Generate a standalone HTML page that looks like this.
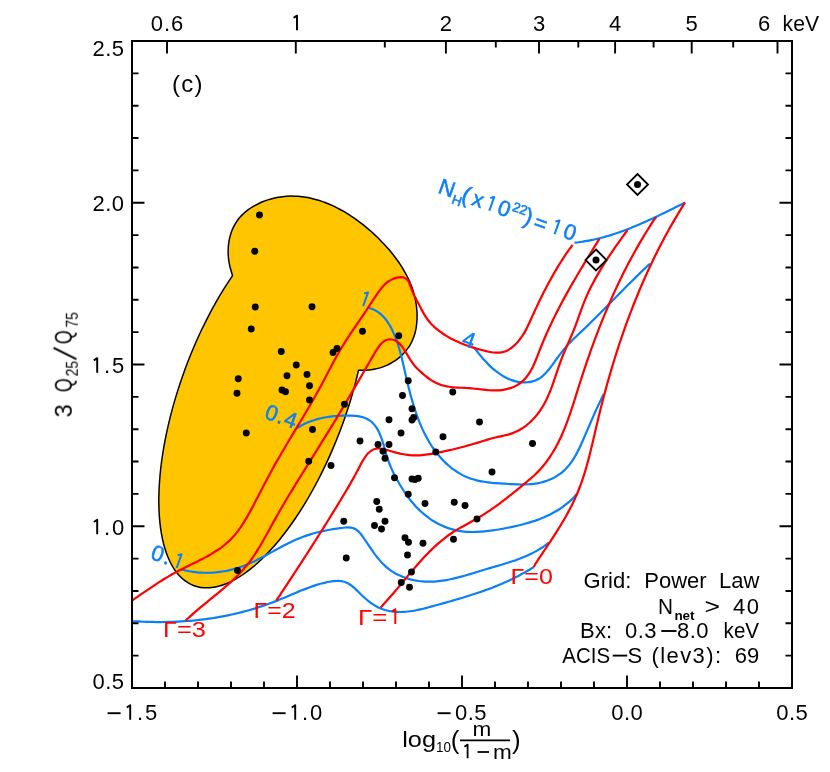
<!DOCTYPE html>
<html><head><meta charset="utf-8"><title>chart</title>
<style>
html,body{margin:0;padding:0;background:#fff;}
body{width:830px;height:772px;position:relative;overflow:hidden;font-family:"Liberation Sans",sans-serif;}
</style></head><body>
<svg width="830" height="772" viewBox="0 0 830 772" style="position:absolute;left:0;top:0;font-family:'Liberation Sans',sans-serif">
<rect x="0" y="0" width="830" height="772" fill="#fff"/>
<path d="M232.51 275.65 C232.33 275.03 231.81 273.21 231.44 271.93 C231.06 270.64 230.61 269.28 230.26 267.94 C229.91 266.60 229.60 265.24 229.34 263.87 C229.07 262.51 228.85 261.13 228.68 259.75 C228.50 258.37 228.37 256.98 228.28 255.59 C228.19 254.20 228.15 252.81 228.15 251.42 C228.15 250.03 228.20 248.64 228.29 247.27 C228.38 245.89 228.52 244.52 228.71 243.16 C228.89 241.80 229.12 240.44 229.40 239.11 C229.68 237.77 230.01 236.45 230.39 235.15 C230.76 233.85 231.19 232.56 231.66 231.30 C232.13 230.05 232.65 228.81 233.22 227.60 C233.79 226.39 234.41 225.20 235.08 224.05 C235.76 222.90 236.48 221.78 237.25 220.70 C238.02 219.61 238.84 218.56 239.71 217.55 C240.58 216.53 241.50 215.56 242.46 214.62 C243.42 213.67 244.42 212.77 245.46 211.90 C246.49 211.03 247.57 210.20 248.68 209.40 C249.78 208.60 250.92 207.84 252.08 207.12 C253.25 206.39 254.44 205.71 255.65 205.05 C256.86 204.40 258.10 203.79 259.35 203.21 C260.59 202.63 261.86 202.08 263.14 201.57 C264.41 201.07 265.71 200.60 267.00 200.16 C268.29 199.72 269.59 199.33 270.89 198.96 C272.19 198.60 273.49 198.27 274.80 197.98 C276.10 197.69 277.40 197.43 278.71 197.21 C280.01 196.99 281.31 196.80 282.62 196.65 C283.92 196.50 285.22 196.38 286.53 196.29 C287.83 196.20 289.13 196.14 290.43 196.12 C291.74 196.09 293.04 196.10 294.34 196.14 C295.63 196.18 296.93 196.25 298.23 196.35 C299.52 196.45 300.82 196.58 302.11 196.73 C303.40 196.89 304.69 197.08 305.98 197.29 C307.26 197.51 308.55 197.75 309.83 198.02 C311.11 198.29 312.39 198.58 313.66 198.91 C314.93 199.23 316.21 199.58 317.47 199.95 C318.74 200.33 320.00 200.73 321.26 201.15 C322.52 201.58 323.77 202.02 325.02 202.50 C326.27 202.97 327.51 203.46 328.75 203.98 C329.99 204.50 331.23 205.04 332.45 205.60 C333.68 206.16 334.91 206.75 336.12 207.35 C337.34 207.96 338.55 208.58 339.75 209.23 C340.96 209.87 342.15 210.54 343.34 211.22 C344.53 211.90 345.72 212.61 346.89 213.33 C348.07 214.05 349.24 214.79 350.40 215.54 C351.56 216.30 352.71 217.07 353.86 217.86 C355.00 218.65 356.14 219.46 357.27 220.28 C358.40 221.10 359.52 221.94 360.63 222.79 C361.74 223.64 362.84 224.50 363.93 225.38 C365.02 226.26 366.11 227.15 367.18 228.06 C368.25 228.96 369.31 229.88 370.37 230.81 C371.42 231.73 372.46 232.68 373.49 233.63 C374.52 234.58 375.54 235.54 376.55 236.51 C377.56 237.48 378.56 238.47 379.55 239.46 C380.54 240.45 381.51 241.45 382.47 242.46 C383.44 243.46 384.39 244.48 385.32 245.51 C386.26 246.53 387.18 247.57 388.09 248.61 C389.00 249.65 389.90 250.71 390.77 251.77 C391.65 252.83 392.52 253.89 393.36 254.97 C394.21 256.05 395.04 257.13 395.85 258.23 C396.66 259.32 397.46 260.43 398.23 261.54 C399.01 262.65 399.77 263.77 400.50 264.90 C401.24 266.03 401.96 267.16 402.66 268.31 C403.35 269.45 404.03 270.61 404.69 271.77 C405.34 272.93 405.97 274.10 406.58 275.28 C407.19 276.46 407.78 277.65 408.35 278.85 C408.91 280.04 409.45 281.25 409.96 282.46 C410.48 283.67 410.97 284.89 411.43 286.12 C411.90 287.35 412.34 288.59 412.75 289.83 C413.16 291.08 413.54 292.33 413.90 293.60 C414.25 294.86 414.58 296.13 414.88 297.41 C415.18 298.69 415.45 299.97 415.69 301.27 C415.93 302.56 416.14 303.87 416.32 305.18 C416.50 306.49 416.65 307.81 416.76 309.14 C416.88 310.47 416.96 311.80 417.01 313.15 C417.06 314.49 417.08 315.84 417.06 317.19 C417.04 318.55 416.99 319.90 416.90 321.26 C416.80 322.61 416.67 323.96 416.50 325.30 C416.32 326.65 416.11 327.99 415.85 329.31 C415.59 330.63 415.29 331.95 414.94 333.24 C414.59 334.53 414.19 335.82 413.74 337.07 C413.30 338.33 412.80 339.57 412.26 340.78 C411.71 341.98 411.11 343.17 410.46 344.32 C409.81 345.47 409.10 346.60 408.35 347.69 C407.60 348.78 406.80 349.84 405.96 350.87 C405.12 351.89 404.23 352.89 403.30 353.84 C402.37 354.80 401.40 355.72 400.39 356.61 C399.38 357.49 398.34 358.34 397.26 359.15 C396.18 359.96 395.07 360.73 393.92 361.46 C392.78 362.19 391.61 362.88 390.41 363.52 C389.21 364.17 387.98 364.77 386.73 365.33 C385.48 365.89 384.20 366.41 382.91 366.87 C381.62 367.34 380.30 367.76 378.97 368.14 C377.64 368.51 376.29 368.84 374.94 369.11 C373.58 369.38 372.20 369.61 370.83 369.78 C369.45 369.96 368.05 370.08 366.66 370.15 C365.27 370.21 363.81 370.17 362.46 370.19 C361.11 370.20 359.21 370.21 358.56 370.22 C357.91 372.83 356.05 380.67 354.64 385.91 C353.23 391.15 351.71 396.43 350.09 401.68 C348.47 406.93 346.75 412.20 344.94 417.43 C343.13 422.65 341.22 427.87 339.23 433.04 C337.24 438.20 335.15 443.34 333.00 448.40 C330.84 453.47 328.59 458.49 326.28 463.42 C323.97 468.35 321.58 473.23 319.14 477.99 C316.69 482.75 314.17 487.44 311.61 492.00 C309.04 496.57 306.41 501.04 303.75 505.37 C301.08 509.70 298.36 513.92 295.61 517.99 C292.85 522.06 290.06 526.01 287.24 529.79 C284.43 533.57 281.58 537.21 278.72 540.68 C275.86 544.14 272.97 547.45 270.09 550.58 C267.20 553.71 264.30 556.67 261.41 559.43 C258.52 562.19 255.62 564.78 252.74 567.17 C249.87 569.55 246.99 571.75 244.15 573.74 C241.31 575.72 238.48 577.52 235.69 579.09 C232.91 580.67 230.14 582.05 227.43 583.20 C224.71 584.36 222.03 585.31 219.41 586.04 C216.78 586.76 214.20 587.28 211.69 587.57 C209.18 587.86 206.71 587.94 204.33 587.80 C201.94 587.65 199.62 587.29 197.38 586.72 C195.13 586.14 192.96 585.34 190.88 584.33 C188.79 583.32 186.79 582.10 184.88 580.67 C182.97 579.23 181.14 577.58 179.42 575.74 C177.70 573.89 176.06 571.83 174.54 569.58 C173.02 567.34 171.59 564.88 170.27 562.25 C168.96 559.61 167.74 556.78 166.65 553.78 C165.55 550.77 164.56 547.58 163.69 544.23 C162.81 540.88 162.05 537.35 161.41 533.68 C160.77 530.01 160.25 526.16 159.84 522.19 C159.44 518.22 159.15 514.09 158.99 509.84 C158.82 505.60 158.78 501.21 158.85 496.73 C158.92 492.24 159.12 487.62 159.43 482.93 C159.75 478.23 160.18 473.42 160.73 468.54 C161.28 463.66 161.95 458.69 162.74 453.67 C163.52 448.64 164.42 443.54 165.44 438.41 C166.45 433.28 167.58 428.08 168.81 422.87 C170.05 417.66 171.39 412.41 172.84 407.16 C174.28 401.91 175.84 396.64 177.49 391.38 C179.14 386.13 180.89 380.87 182.73 375.65 C184.57 370.43 186.51 365.22 188.53 360.07 C190.55 354.93 192.66 349.80 194.84 344.76 C197.02 339.71 199.29 334.71 201.63 329.80 C203.96 324.90 206.37 320.05 208.84 315.32 C211.30 310.58 213.84 305.93 216.42 301.40 C219.01 296.87 221.65 292.44 224.33 288.15 C227.02 283.86 231.15 277.73 232.51 275.65Z" fill="#FFC600" stroke="#000" stroke-width="1.5" stroke-linejoin="miter"/>
<path d="M574.50 242.60 C575.20 242.54 577.32 242.40 578.73 242.24 C580.13 242.09 581.53 241.86 582.92 241.65 C584.31 241.43 585.70 241.20 587.09 240.95 C588.48 240.70 589.86 240.43 591.23 240.15 C592.61 239.87 593.99 239.57 595.35 239.26 C596.72 238.94 598.09 238.62 599.45 238.27 C600.81 237.93 602.17 237.58 603.53 237.21 C604.88 236.84 606.23 236.45 607.58 236.05 C608.93 235.66 610.27 235.25 611.61 234.83 C612.95 234.41 614.29 233.97 615.62 233.53 C616.95 233.08 618.28 232.62 619.61 232.16 C620.94 231.69 622.26 231.21 623.58 230.72 C624.90 230.24 626.22 229.74 627.53 229.23 C628.85 228.72 630.16 228.21 631.47 227.68 C632.78 227.16 634.08 226.62 635.39 226.08 C636.69 225.54 637.99 224.99 639.29 224.43 C640.58 223.88 641.88 223.31 643.17 222.74 C644.46 222.18 645.75 221.60 647.04 221.02 C648.32 220.44 649.61 219.85 650.89 219.26 C652.17 218.66 653.45 218.07 654.73 217.46 C656.01 216.86 657.28 216.26 658.56 215.65 C659.83 215.04 661.10 214.43 662.37 213.81 C663.64 213.20 664.90 212.58 666.17 211.96 C667.43 211.34 668.70 210.72 669.96 210.09 C671.22 209.47 672.48 208.84 673.74 208.22 C674.99 207.59 676.25 206.97 677.50 206.34 C678.76 205.72 680.01 205.11 681.26 204.47 C682.51 203.83 684.38 202.83 685.00 202.50" fill="none" stroke="#0A80F8" stroke-width="2.2" stroke-linecap="butt" stroke-linejoin="round"/>
<path d="M474.70 348.40 C475.11 348.92 476.35 350.46 477.18 351.50 C478.00 352.54 478.79 353.58 479.63 354.62 C480.47 355.66 481.34 356.71 482.23 357.75 C483.11 358.79 484.03 359.83 484.96 360.85 C485.90 361.87 486.86 362.89 487.84 363.89 C488.83 364.88 489.83 365.87 490.86 366.82 C491.89 367.78 492.94 368.72 494.02 369.62 C495.09 370.52 496.19 371.40 497.31 372.24 C498.43 373.07 499.57 373.88 500.74 374.64 C501.90 375.39 503.09 376.12 504.29 376.78 C505.50 377.45 506.73 378.07 507.98 378.64 C509.23 379.20 510.50 379.71 511.80 380.16 C513.09 380.61 514.41 381.00 515.73 381.32 C517.06 381.63 518.40 381.89 519.74 382.07 C521.08 382.25 522.43 382.37 523.77 382.40 C525.10 382.43 526.44 382.39 527.74 382.27 C529.05 382.14 530.35 381.94 531.62 381.65 C532.88 381.35 534.13 380.98 535.32 380.51 C536.52 380.04 537.69 379.48 538.81 378.82 C539.92 378.16 540.99 377.40 542.01 376.57 C543.04 375.74 544.02 374.81 544.97 373.84 C545.92 372.87 546.83 371.83 547.73 370.77 C548.63 369.71 549.50 368.59 550.36 367.48 C551.22 366.37 552.06 365.23 552.90 364.10 C553.74 362.97 554.56 361.82 555.39 360.68 C556.22 359.54 557.04 358.40 557.88 357.27 C558.71 356.14 559.53 355.00 560.38 353.89 C561.22 352.78 562.07 351.67 562.93 350.59 C563.80 349.51 564.68 348.44 565.57 347.40 C566.47 346.36 567.38 345.34 568.31 344.34 C569.24 343.33 570.18 342.35 571.13 341.38 C572.08 340.41 573.05 339.45 574.02 338.50 C574.99 337.55 575.97 336.61 576.95 335.67 C577.93 334.74 578.92 333.81 579.90 332.87 C580.89 331.94 581.88 331.01 582.86 330.08 C583.85 329.14 584.83 328.20 585.81 327.26 C586.79 326.31 587.77 325.37 588.75 324.42 C589.72 323.47 590.70 322.51 591.67 321.56 C592.65 320.60 593.62 319.64 594.59 318.68 C595.56 317.72 596.53 316.76 597.50 315.79 C598.46 314.83 599.43 313.86 600.40 312.89 C601.36 311.92 602.33 310.95 603.29 309.97 C604.26 309.00 605.22 308.03 606.18 307.05 C607.15 306.08 608.11 305.10 609.07 304.12 C610.03 303.15 611.00 302.17 611.96 301.19 C612.92 300.21 613.88 299.23 614.84 298.26 C615.81 297.28 616.77 296.30 617.73 295.32 C618.69 294.34 619.66 293.37 620.62 292.39 C621.58 291.41 622.55 290.44 623.51 289.46 C624.48 288.49 625.44 287.52 626.41 286.54 C627.38 285.57 628.34 284.60 629.31 283.63 C630.28 282.66 631.25 281.70 632.23 280.73 C633.20 279.77 634.17 278.81 635.15 277.85 C636.12 276.89 637.10 275.93 638.08 274.98 C639.06 274.02 640.04 273.07 641.02 272.12 C642.00 271.18 642.99 270.23 643.98 269.29 C644.96 268.35 645.94 267.40 646.95 266.48 C647.95 265.56 649.49 264.21 650.00 263.75" fill="none" stroke="#0A80F8" stroke-width="2.2" stroke-linecap="butt" stroke-linejoin="round"/>
<path d="M368.80 308.10 C369.48 308.29 371.57 308.73 372.86 309.24 C374.15 309.74 375.37 310.43 376.54 311.13 C377.70 311.83 378.79 312.61 379.83 313.44 C380.87 314.26 381.85 315.16 382.78 316.09 C383.71 317.03 384.59 318.02 385.42 319.05 C386.25 320.08 387.03 321.15 387.78 322.26 C388.52 323.36 389.22 324.50 389.89 325.66 C390.56 326.81 391.18 328.00 391.79 329.20 C392.39 330.39 392.96 331.61 393.50 332.83 C394.05 334.05 394.56 335.28 395.06 336.51 C395.56 337.75 396.03 338.99 396.48 340.23 C396.94 341.48 397.37 342.74 397.78 344.00 C398.20 345.26 398.60 346.53 398.98 347.80 C399.36 349.07 399.73 350.35 400.09 351.63 C400.44 352.92 400.78 354.21 401.12 355.50 C401.45 356.79 401.77 358.09 402.09 359.39 C402.41 360.70 402.72 362.00 403.02 363.31 C403.33 364.62 403.63 365.94 403.93 367.25 C404.23 368.57 404.53 369.89 404.83 371.21 C405.13 372.54 405.42 373.86 405.73 375.19 C406.03 376.52 406.34 377.85 406.65 379.18 C406.96 380.51 407.27 381.84 407.59 383.18 C407.91 384.51 408.24 385.84 408.57 387.18 C408.90 388.51 409.23 389.84 409.58 391.17 C409.92 392.50 410.27 393.83 410.63 395.16 C410.99 396.49 411.35 397.82 411.73 399.14 C412.10 400.46 412.48 401.78 412.87 403.10 C413.27 404.41 413.67 405.72 414.08 407.03 C414.49 408.34 414.91 409.64 415.35 410.94 C415.78 412.23 416.22 413.53 416.68 414.81 C417.14 416.09 417.61 417.37 418.09 418.64 C418.57 419.92 419.06 421.18 419.57 422.43 C420.08 423.69 420.60 424.94 421.14 426.18 C421.68 427.41 422.23 428.64 422.80 429.86 C423.36 431.08 423.95 432.29 424.55 433.49 C425.14 434.69 425.76 435.88 426.39 437.05 C427.03 438.23 427.68 439.40 428.35 440.55 C429.01 441.70 429.70 442.84 430.41 443.97 C431.11 445.09 431.84 446.21 432.58 447.31 C433.33 448.41 434.09 449.49 434.88 450.56 C435.67 451.63 436.47 452.69 437.30 453.72 C438.13 454.76 438.98 455.79 439.85 456.79 C440.73 457.80 441.62 458.78 442.53 459.75 C443.45 460.72 444.39 461.66 445.34 462.59 C446.30 463.51 447.28 464.41 448.28 465.28 C449.28 466.16 450.29 467.01 451.33 467.83 C452.37 468.65 453.43 469.44 454.51 470.21 C455.59 470.97 456.69 471.70 457.81 472.40 C458.93 473.10 460.06 473.77 461.22 474.40 C462.38 475.03 463.55 475.63 464.75 476.19 C465.94 476.75 467.15 477.27 468.39 477.75 C469.62 478.23 470.87 478.67 472.13 479.07 C473.40 479.47 474.69 479.83 475.98 480.16 C477.28 480.49 478.60 480.78 479.92 481.05 C481.24 481.32 482.58 481.55 483.93 481.76 C485.28 481.98 486.64 482.16 488.00 482.33 C489.37 482.50 490.74 482.65 492.12 482.78 C493.50 482.92 494.88 483.04 496.27 483.15 C497.66 483.26 499.05 483.35 500.44 483.45 C501.83 483.55 503.22 483.63 504.61 483.72 C506.01 483.81 507.40 483.90 508.78 483.98 C510.17 484.06 511.56 484.15 512.94 484.21 C514.32 484.28 515.70 484.35 517.08 484.39 C518.45 484.44 519.82 484.47 521.19 484.48 C522.55 484.49 523.91 484.48 525.27 484.45 C526.62 484.41 527.97 484.36 529.31 484.27 C530.65 484.18 531.98 484.06 533.31 483.90 C534.63 483.75 535.95 483.56 537.26 483.33 C538.57 483.09 539.87 482.82 541.16 482.51 C542.45 482.19 543.73 481.83 545.00 481.42 C546.26 481.02 547.51 480.57 548.74 480.08 C549.97 479.58 551.18 479.04 552.37 478.46 C553.56 477.88 554.72 477.26 555.86 476.59 C556.99 475.93 558.11 475.22 559.18 474.46 C560.26 473.71 561.31 472.91 562.31 472.07 C563.32 471.24 564.30 470.35 565.23 469.43 C566.16 468.51 567.06 467.54 567.92 466.54 C568.78 465.54 569.60 464.50 570.40 463.44 C571.20 462.37 571.96 461.27 572.70 460.15 C573.44 459.02 574.14 457.87 574.83 456.70 C575.52 455.53 576.18 454.34 576.83 453.13 C577.47 451.92 578.09 450.69 578.70 449.46 C579.31 448.23 579.90 446.98 580.48 445.72 C581.07 444.47 581.63 443.21 582.19 441.95 C582.75 440.70 583.30 439.43 583.85 438.18 C584.40 436.92 584.94 435.67 585.48 434.42 C586.02 433.17 586.55 431.92 587.09 430.68 C587.62 429.44 588.15 428.20 588.68 426.97 C589.21 425.73 589.74 424.50 590.27 423.27 C590.81 422.04 591.34 420.82 591.87 419.59 C592.40 418.37 592.94 417.15 593.47 415.93 C594.01 414.71 594.55 413.49 595.10 412.27 C595.65 411.06 596.19 409.84 596.75 408.63 C597.31 407.42 597.87 406.21 598.44 405.00 C599.01 403.79 599.58 402.58 600.17 401.37 C600.75 400.16 601.37 398.97 601.95 397.75 C602.52 396.52 603.32 394.62 603.60 394.00" fill="none" stroke="#0A80F8" stroke-width="2.2" stroke-linecap="butt" stroke-linejoin="round"/>
<path d="M296.25 428.75 C296.83 428.37 298.54 427.16 299.71 426.45 C300.88 425.74 302.07 425.10 303.27 424.49 C304.48 423.87 305.69 423.30 306.92 422.76 C308.15 422.22 309.39 421.72 310.65 421.26 C311.90 420.79 313.17 420.36 314.45 419.96 C315.73 419.57 317.02 419.20 318.32 418.87 C319.62 418.54 320.93 418.24 322.25 417.96 C323.57 417.69 324.90 417.44 326.24 417.22 C327.57 417.00 328.92 416.81 330.27 416.64 C331.63 416.47 332.99 416.32 334.36 416.20 C335.73 416.07 337.10 415.97 338.48 415.89 C339.86 415.80 341.25 415.74 342.64 415.69 C344.03 415.64 345.42 415.61 346.82 415.60 C348.22 415.59 349.63 415.57 351.02 415.61 C352.42 415.64 353.82 415.69 355.19 415.81 C356.55 415.92 357.92 416.07 359.24 416.32 C360.56 416.56 361.86 416.86 363.10 417.27 C364.35 417.67 365.57 418.16 366.72 418.74 C367.87 419.32 368.98 419.99 370.01 420.73 C371.04 421.47 372.02 422.30 372.92 423.20 C373.82 424.10 374.64 425.08 375.41 426.11 C376.18 427.14 376.88 428.24 377.54 429.39 C378.20 430.53 378.80 431.74 379.37 432.98 C379.94 434.21 380.45 435.50 380.95 436.81 C381.44 438.11 381.90 439.45 382.34 440.81 C382.78 442.16 383.19 443.54 383.60 444.91 C384.00 446.29 384.39 447.68 384.78 449.06 C385.18 450.44 385.56 451.82 385.95 453.18 C386.35 454.53 386.75 455.88 387.17 457.20 C387.59 458.52 388.02 459.81 388.47 461.07 C388.93 462.34 389.40 463.57 389.89 464.80 C390.38 466.02 390.89 467.22 391.42 468.42 C391.95 469.61 392.50 470.79 393.06 471.96 C393.62 473.14 394.20 474.30 394.80 475.47 C395.40 476.64 396.02 477.81 396.65 478.98 C397.29 480.15 397.94 481.32 398.61 482.49 C399.28 483.66 399.96 484.83 400.67 485.99 C401.38 487.15 402.10 488.31 402.84 489.47 C403.58 490.62 404.34 491.77 405.12 492.90 C405.90 494.04 406.70 495.16 407.51 496.28 C408.33 497.39 409.16 498.49 410.02 499.58 C410.87 500.67 411.74 501.74 412.63 502.79 C413.52 503.85 414.43 504.88 415.36 505.90 C416.29 506.92 417.24 507.91 418.21 508.89 C419.18 509.86 420.17 510.81 421.18 511.73 C422.19 512.66 423.22 513.56 424.26 514.43 C425.31 515.30 426.38 516.14 427.46 516.96 C428.54 517.77 429.65 518.56 430.77 519.32 C431.89 520.07 433.02 520.80 434.17 521.50 C435.32 522.19 436.49 522.86 437.67 523.49 C438.86 524.12 440.05 524.72 441.26 525.28 C442.47 525.85 443.70 526.38 444.93 526.88 C446.17 527.37 447.41 527.83 448.67 528.26 C449.93 528.68 451.20 529.07 452.48 529.42 C453.76 529.77 455.05 530.09 456.35 530.36 C457.65 530.64 458.96 530.87 460.27 531.07 C461.59 531.27 462.91 531.43 464.24 531.57 C465.57 531.70 466.91 531.80 468.25 531.86 C469.59 531.93 470.94 531.97 472.29 531.98 C473.65 531.99 475.00 531.97 476.37 531.93 C477.73 531.88 479.09 531.81 480.46 531.72 C481.83 531.64 483.20 531.52 484.57 531.39 C485.94 531.26 487.32 531.10 488.69 530.94 C490.06 530.77 491.44 530.58 492.81 530.38 C494.19 530.18 495.56 529.97 496.93 529.74 C498.31 529.52 499.68 529.28 501.04 529.03 C502.41 528.79 503.78 528.53 505.14 528.27 C506.50 528.01 507.86 527.75 509.21 527.47 C510.57 527.20 511.92 526.91 513.26 526.62 C514.61 526.33 515.95 526.03 517.28 525.72 C518.62 525.41 519.94 525.09 521.27 524.75 C522.59 524.42 523.91 524.07 525.21 523.72 C526.52 523.36 527.83 522.98 529.12 522.60 C530.41 522.21 531.70 521.81 532.98 521.39 C534.26 520.97 535.53 520.54 536.79 520.09 C538.05 519.64 539.31 519.17 540.55 518.68 C541.79 518.19 543.02 517.68 544.25 517.16 C545.47 516.63 546.68 516.08 547.88 515.51 C549.09 514.94 550.28 514.35 551.46 513.73 C552.63 513.12 553.80 512.48 554.96 511.82 C556.11 511.15 557.25 510.47 558.38 509.75 C559.51 509.04 560.63 508.30 561.73 507.53 C562.84 506.77 563.93 505.97 565.00 505.15 C566.08 504.33 567.14 503.47 568.18 502.59 C569.23 501.71 570.26 500.80 571.28 499.85 C572.29 498.91 573.32 497.94 574.27 496.92 C575.23 495.90 576.55 494.28 577.00 493.75" fill="none" stroke="#0A80F8" stroke-width="2.2" stroke-linecap="butt" stroke-linejoin="round"/>
<path d="M181.25 569.50 C181.91 569.66 183.88 570.14 185.20 570.44 C186.53 570.73 187.86 571.01 189.20 571.25 C190.53 571.49 191.88 571.70 193.22 571.89 C194.57 572.07 195.92 572.23 197.28 572.35 C198.63 572.48 199.99 572.58 201.35 572.65 C202.71 572.72 204.07 572.76 205.44 572.77 C206.80 572.79 208.16 572.77 209.52 572.73 C210.88 572.69 212.25 572.63 213.60 572.53 C214.96 572.44 216.32 572.32 217.67 572.17 C219.03 572.02 220.38 571.85 221.72 571.65 C223.07 571.44 224.41 571.22 225.74 570.97 C227.08 570.71 228.40 570.44 229.73 570.13 C231.05 569.83 232.36 569.50 233.67 569.15 C234.97 568.79 236.27 568.42 237.55 568.01 C238.84 567.61 240.12 567.18 241.38 566.73 C242.65 566.28 243.90 565.81 245.15 565.31 C246.40 564.82 247.64 564.30 248.87 563.77 C250.10 563.24 251.32 562.68 252.53 562.12 C253.75 561.55 254.96 560.97 256.16 560.37 C257.37 559.78 258.57 559.17 259.76 558.56 C260.96 557.94 262.15 557.31 263.33 556.68 C264.52 556.05 265.71 555.41 266.89 554.76 C268.08 554.12 269.26 553.47 270.44 552.82 C271.62 552.16 272.80 551.51 273.99 550.86 C275.17 550.21 276.35 549.55 277.54 548.91 C278.73 548.26 279.91 547.61 281.11 546.98 C282.30 546.34 283.49 545.71 284.69 545.09 C285.89 544.46 287.10 543.85 288.31 543.25 C289.52 542.65 290.74 542.06 291.96 541.48 C293.19 540.91 294.42 540.34 295.66 539.80 C296.90 539.26 298.15 538.73 299.41 538.22 C300.67 537.71 301.93 537.22 303.21 536.76 C304.49 536.29 305.78 535.84 307.07 535.41 C308.37 534.98 309.67 534.57 310.98 534.17 C312.29 533.78 313.60 533.40 314.92 533.04 C316.25 532.68 317.57 532.34 318.91 532.02 C320.24 531.69 321.57 531.38 322.91 531.09 C324.25 530.79 325.60 530.51 326.94 530.25 C328.29 529.99 329.64 529.74 330.99 529.50 C332.34 529.26 333.69 529.04 335.04 528.83 C336.39 528.63 337.75 528.43 339.10 528.25 C340.45 528.07 341.81 527.87 343.14 527.74 C344.48 527.61 345.82 527.48 347.12 527.46 C348.42 527.45 349.70 527.48 350.92 527.67 C352.14 527.86 353.34 528.14 354.45 528.63 C355.56 529.11 356.60 529.78 357.59 530.59 C358.57 531.39 359.48 532.42 360.36 533.46 C361.25 534.50 362.07 535.69 362.90 536.83 C363.72 537.98 364.52 539.16 365.32 540.33 C366.12 541.49 366.90 542.66 367.69 543.82 C368.47 544.98 369.24 546.14 370.02 547.29 C370.80 548.43 371.58 549.58 372.37 550.70 C373.16 551.83 373.94 552.94 374.75 554.04 C375.55 555.14 376.37 556.22 377.20 557.28 C378.03 558.33 378.88 559.37 379.75 560.39 C380.62 561.40 381.51 562.39 382.43 563.35 C383.35 564.30 384.29 565.24 385.27 566.13 C386.25 567.03 387.25 567.89 388.30 568.71 C389.35 569.54 390.44 570.33 391.56 571.08 C392.68 571.82 393.84 572.53 395.03 573.20 C396.21 573.87 397.44 574.50 398.68 575.10 C399.92 575.69 401.19 576.24 402.47 576.75 C403.76 577.26 405.06 577.74 406.38 578.17 C407.70 578.60 409.03 579.00 410.37 579.35 C411.71 579.70 413.06 580.01 414.40 580.29 C415.75 580.56 417.10 580.79 418.45 580.98 C419.79 581.18 421.14 581.33 422.48 581.44 C423.82 581.56 425.16 581.63 426.50 581.68 C427.84 581.72 429.18 581.73 430.51 581.70 C431.84 581.68 433.17 581.62 434.50 581.54 C435.83 581.45 437.16 581.34 438.49 581.20 C439.81 581.06 441.14 580.89 442.46 580.70 C443.78 580.51 445.11 580.29 446.43 580.06 C447.75 579.82 449.07 579.56 450.38 579.29 C451.70 579.01 453.02 578.72 454.33 578.41 C455.65 578.10 456.96 577.77 458.28 577.43 C459.59 577.09 460.90 576.74 462.22 576.38 C463.53 576.02 464.84 575.64 466.15 575.26 C467.46 574.88 468.77 574.49 470.08 574.10 C471.39 573.71 472.70 573.31 474.01 572.91 C475.32 572.51 476.63 572.10 477.94 571.70 C479.25 571.30 480.56 570.89 481.87 570.50 C483.18 570.10 484.49 569.70 485.81 569.31 C487.12 568.92 488.43 568.53 489.74 568.15 C491.05 567.77 492.36 567.39 493.67 567.00 C494.97 566.62 496.28 566.24 497.58 565.86 C498.89 565.48 500.19 565.10 501.49 564.71 C502.79 564.32 504.09 563.93 505.38 563.53 C506.67 563.13 507.96 562.72 509.24 562.31 C510.53 561.90 511.81 561.47 513.08 561.04 C514.35 560.61 515.62 560.17 516.88 559.71 C518.15 559.25 519.40 558.78 520.65 558.30 C521.90 557.81 523.14 557.32 524.37 556.80 C525.61 556.28 526.83 555.75 528.05 555.19 C529.27 554.64 530.48 554.07 531.68 553.47 C532.88 552.88 534.07 552.26 535.25 551.62 C536.42 550.98 537.59 550.32 538.75 549.63 C539.91 548.94 541.06 548.22 542.19 547.48 C543.33 546.73 544.47 545.99 545.56 545.16 C546.65 544.33 548.22 542.94 548.75 542.50" fill="none" stroke="#0A80F8" stroke-width="2.2" stroke-linecap="butt" stroke-linejoin="round"/>
<path d="M132.50 621.25 C133.17 621.26 135.17 621.27 136.52 621.32 C137.87 621.36 139.24 621.47 140.61 621.54 C141.97 621.61 143.33 621.67 144.69 621.73 C146.05 621.78 147.42 621.83 148.78 621.87 C150.14 621.91 151.50 621.94 152.86 621.97 C154.21 622.00 155.57 622.02 156.93 622.03 C158.29 622.04 159.65 622.04 161.00 622.04 C162.36 622.04 163.72 622.03 165.07 622.01 C166.43 621.99 167.78 621.96 169.14 621.93 C170.49 621.90 171.84 621.86 173.19 621.81 C174.55 621.76 175.90 621.70 177.25 621.64 C178.60 621.58 179.95 621.50 181.29 621.43 C182.64 621.35 183.99 621.26 185.34 621.16 C186.68 621.07 188.03 620.97 189.37 620.86 C190.72 620.74 192.06 620.63 193.40 620.50 C194.74 620.37 196.08 620.24 197.42 620.09 C198.76 619.95 200.10 619.80 201.44 619.64 C202.77 619.48 204.11 619.31 205.44 619.14 C206.78 618.96 208.11 618.78 209.44 618.59 C210.78 618.39 212.11 618.19 213.43 617.98 C214.76 617.77 216.09 617.56 217.42 617.33 C218.74 617.10 220.07 616.87 221.39 616.63 C222.71 616.38 224.03 616.13 225.35 615.87 C226.67 615.61 227.99 615.34 229.31 615.06 C230.62 614.78 231.94 614.50 233.25 614.20 C234.56 613.90 235.88 613.60 237.18 613.29 C238.49 612.97 239.80 612.65 241.11 612.32 C242.41 611.99 243.72 611.65 245.02 611.30 C246.32 610.95 247.62 610.59 248.92 610.22 C250.22 609.85 251.51 609.48 252.81 609.09 C254.10 608.70 255.39 608.31 256.68 607.90 C257.97 607.50 259.26 607.09 260.55 606.66 C261.83 606.24 263.12 605.81 264.40 605.36 C265.68 604.92 266.96 604.47 268.24 604.01 C269.51 603.55 270.79 603.08 272.06 602.60 C273.33 602.11 274.60 601.62 275.87 601.12 C277.14 600.62 278.41 600.11 279.67 599.60 C280.93 599.08 282.19 598.55 283.46 598.03 C284.72 597.50 285.98 596.96 287.23 596.43 C288.49 595.89 289.75 595.35 291.01 594.82 C292.27 594.28 293.53 593.74 294.79 593.21 C296.05 592.68 297.31 592.15 298.57 591.63 C299.83 591.11 301.10 590.59 302.36 590.09 C303.63 589.58 304.89 589.08 306.16 588.60 C307.44 588.12 308.71 587.64 309.98 587.18 C311.26 586.73 312.54 586.28 313.83 585.86 C315.11 585.43 316.40 585.02 317.69 584.63 C318.98 584.25 320.28 583.88 321.58 583.53 C322.89 583.19 324.20 582.86 325.51 582.57 C326.82 582.27 328.15 581.99 329.47 581.76 C330.80 581.52 332.14 581.29 333.46 581.13 C334.79 580.98 336.12 580.86 337.42 580.85 C338.72 580.84 340.01 580.89 341.25 581.07 C342.50 581.26 343.71 581.54 344.89 581.94 C346.07 582.33 347.21 582.84 348.31 583.45 C349.41 584.06 350.47 584.79 351.51 585.58 C352.54 586.36 353.54 587.26 354.54 588.16 C355.54 589.07 356.51 590.05 357.49 591.01 C358.48 591.97 359.46 592.96 360.45 593.92 C361.45 594.88 362.45 595.83 363.46 596.77 C364.48 597.70 365.51 598.62 366.56 599.50 C367.61 600.39 368.67 601.25 369.76 602.07 C370.85 602.89 371.96 603.68 373.10 604.42 C374.24 605.16 375.39 605.87 376.59 606.51 C377.78 607.15 379.00 607.74 380.25 608.27 C381.51 608.80 382.80 609.27 384.11 609.68 C385.42 610.09 386.76 610.43 388.10 610.73 C389.44 611.02 390.80 611.26 392.15 611.45 C393.50 611.63 394.85 611.76 396.19 611.85 C397.54 611.94 398.88 611.98 400.22 611.98 C401.56 611.98 402.89 611.93 404.23 611.85 C405.56 611.78 406.89 611.65 408.22 611.51 C409.55 611.36 410.88 611.17 412.21 610.97 C413.53 610.76 414.85 610.52 416.18 610.26 C417.50 610.00 418.82 609.72 420.14 609.42 C421.46 609.12 422.78 608.81 424.09 608.48 C425.41 608.15 426.72 607.81 428.04 607.46 C429.35 607.11 430.67 606.75 431.98 606.40 C433.29 606.04 434.61 605.68 435.92 605.31 C437.23 604.95 438.54 604.59 439.85 604.23 C441.17 603.87 442.48 603.50 443.78 603.14 C445.09 602.77 446.40 602.41 447.71 602.04 C449.02 601.67 450.32 601.30 451.63 600.93 C452.93 600.55 454.24 600.18 455.54 599.80 C456.84 599.42 458.14 599.04 459.44 598.65 C460.74 598.27 462.03 597.88 463.33 597.48 C464.62 597.09 465.92 596.69 467.21 596.29 C468.50 595.89 469.79 595.48 471.07 595.07 C472.36 594.66 473.64 594.24 474.93 593.82 C476.21 593.39 477.49 592.96 478.76 592.53 C480.04 592.09 481.31 591.65 482.59 591.21 C483.86 590.76 485.13 590.30 486.39 589.84 C487.66 589.38 488.92 588.91 490.18 588.43 C491.44 587.96 492.69 587.47 493.95 586.98 C495.20 586.49 496.45 585.99 497.69 585.48 C498.94 584.97 500.18 584.45 501.42 583.92 C502.66 583.39 503.89 582.85 505.12 582.31 C506.35 581.76 507.58 581.20 508.80 580.64 C510.02 580.07 511.24 579.49 512.45 578.90 C513.67 578.31 514.88 577.71 516.08 577.10 C517.29 576.49 518.49 575.87 519.68 575.23 C520.88 574.60 522.07 573.95 523.25 573.30 C524.44 572.64 525.62 571.97 526.80 571.28 C527.97 570.60 529.15 569.90 530.31 569.19 C531.47 568.48 533.18 567.37 533.75 567.00" fill="none" stroke="#0A80F8" stroke-width="2.2" stroke-linecap="butt" stroke-linejoin="round"/>
<path d="M132.00 600.50 C132.56 600.12 134.24 598.98 135.36 598.21 C136.48 597.45 137.61 596.67 138.73 595.91 C139.85 595.14 140.97 594.37 142.08 593.61 C143.20 592.84 144.31 592.08 145.42 591.32 C146.53 590.56 147.64 589.80 148.75 589.05 C149.86 588.30 150.97 587.55 152.09 586.80 C153.20 586.06 154.31 585.32 155.43 584.58 C156.55 583.85 157.66 583.12 158.79 582.39 C159.91 581.67 161.04 580.95 162.17 580.24 C163.30 579.54 164.44 578.83 165.58 578.14 C166.72 577.44 167.87 576.76 169.03 576.08 C170.19 575.40 171.35 574.73 172.52 574.08 C173.70 573.42 174.88 572.77 176.07 572.13 C177.26 571.49 178.46 570.86 179.67 570.24 C180.87 569.62 182.09 569.00 183.30 568.39 C184.52 567.78 185.74 567.18 186.97 566.57 C188.19 565.97 189.42 565.37 190.64 564.77 C191.87 564.17 193.10 563.57 194.32 562.96 C195.55 562.36 196.77 561.75 197.99 561.14 C199.21 560.53 200.42 559.92 201.63 559.29 C202.84 558.67 204.04 558.04 205.24 557.40 C206.43 556.76 207.62 556.11 208.79 555.44 C209.96 554.78 211.13 554.11 212.28 553.42 C213.43 552.73 214.57 552.02 215.70 551.30 C216.82 550.58 217.93 549.84 219.02 549.08 C220.11 548.33 221.19 547.55 222.24 546.75 C223.30 545.95 224.34 545.13 225.35 544.28 C226.37 543.44 227.36 542.57 228.33 541.67 C229.30 540.77 230.25 539.85 231.17 538.90 C232.10 537.95 232.99 536.97 233.87 535.96 C234.75 534.96 235.60 533.93 236.44 532.88 C237.27 531.84 238.09 530.76 238.88 529.68 C239.68 528.59 240.46 527.48 241.22 526.35 C241.99 525.23 242.73 524.09 243.46 522.94 C244.20 521.78 244.91 520.61 245.62 519.44 C246.33 518.26 247.02 517.07 247.70 515.87 C248.38 514.67 249.06 513.47 249.72 512.26 C250.38 511.05 251.04 509.83 251.69 508.61 C252.34 507.40 252.98 506.17 253.62 504.95 C254.25 503.73 254.88 502.51 255.52 501.29 C256.15 500.07 256.77 498.86 257.40 497.65 C258.02 496.44 258.65 495.23 259.27 494.02 C259.89 492.82 260.52 491.62 261.14 490.42 C261.76 489.22 262.38 488.03 263.00 486.84 C263.62 485.65 264.25 484.46 264.87 483.27 C265.49 482.09 266.12 480.90 266.74 479.72 C267.37 478.54 267.99 477.36 268.62 476.19 C269.25 475.01 269.88 473.84 270.52 472.66 C271.15 471.49 271.79 470.32 272.43 469.15 C273.07 467.98 273.72 466.81 274.36 465.65 C275.01 464.48 275.67 463.32 276.32 462.15 C276.98 460.99 277.64 459.83 278.30 458.67 C278.97 457.50 279.64 456.34 280.31 455.18 C280.98 454.02 281.65 452.86 282.33 451.71 C283.01 450.55 283.69 449.39 284.37 448.23 C285.05 447.08 285.74 445.92 286.42 444.76 C287.11 443.61 287.80 442.45 288.49 441.29 C289.18 440.14 289.87 438.98 290.56 437.83 C291.26 436.67 291.95 435.52 292.65 434.36 C293.34 433.20 294.04 432.05 294.73 430.89 C295.43 429.74 296.12 428.58 296.82 427.42 C297.52 426.27 298.21 425.11 298.91 423.95 C299.61 422.79 300.30 421.63 301.00 420.47 C301.69 419.31 302.39 418.15 303.08 416.99 C303.77 415.83 304.46 414.67 305.15 413.51 C305.84 412.34 306.53 411.18 307.22 410.01 C307.90 408.85 308.59 407.68 309.27 406.51 C309.95 405.34 310.63 404.18 311.31 403.00 C311.98 401.83 312.66 400.66 313.33 399.49 C314.00 398.31 314.67 397.13 315.33 395.96 C316.00 394.78 316.66 393.60 317.31 392.42 C317.97 391.23 318.62 390.05 319.27 388.86 C319.92 387.68 320.56 386.49 321.20 385.30 C321.84 384.11 322.47 382.91 323.10 381.72 C323.74 380.53 324.37 379.33 325.00 378.14 C325.62 376.94 326.25 375.74 326.88 374.55 C327.50 373.35 328.13 372.16 328.76 370.96 C329.38 369.77 330.01 368.58 330.64 367.39 C331.27 366.19 331.90 365.00 332.54 363.82 C333.17 362.63 333.81 361.44 334.45 360.26 C335.09 359.08 335.74 357.90 336.39 356.72 C337.04 355.55 337.70 354.38 338.36 353.21 C339.03 352.04 339.70 350.88 340.37 349.72 C341.05 348.56 341.74 347.41 342.43 346.26 C343.13 345.12 343.83 343.98 344.54 342.84 C345.25 341.70 345.98 340.57 346.70 339.45 C347.43 338.32 348.16 337.20 348.90 336.08 C349.64 334.96 350.39 333.85 351.14 332.73 C351.89 331.62 352.64 330.51 353.40 329.40 C354.16 328.28 354.92 327.18 355.68 326.07 C356.44 324.95 357.20 323.85 357.97 322.73 C358.73 321.62 359.50 320.51 360.26 319.40 C361.02 318.28 361.79 317.16 362.55 316.04 C363.31 314.92 364.07 313.80 364.82 312.67 C365.58 311.54 366.33 310.41 367.07 309.27 C367.82 308.14 368.56 306.99 369.30 305.85 C370.04 304.70 370.77 303.55 371.51 302.40 C372.25 301.26 372.98 300.11 373.73 298.98 C374.47 297.85 375.21 296.72 375.97 295.61 C376.72 294.50 377.48 293.40 378.26 292.32 C379.03 291.24 379.81 290.18 380.62 289.15 C381.44 288.12 382.26 287.11 383.15 286.16 C384.03 285.21 384.95 284.28 385.94 283.43 C386.94 282.58 387.98 281.77 389.13 281.04 C390.27 280.32 391.51 279.63 392.82 279.07 C394.12 278.51 395.57 277.99 396.96 277.67 C398.34 277.36 399.81 277.14 401.12 277.19 C402.44 277.23 403.75 277.46 404.84 277.96 C405.93 278.46 406.90 279.23 407.68 280.19 C408.47 281.15 408.99 282.47 409.53 283.73 C410.08 285.00 410.46 286.47 410.95 287.79 C411.44 289.11 411.94 290.41 412.47 291.66 C412.99 292.91 413.56 294.11 414.13 295.31 C414.70 296.50 415.30 297.66 415.91 298.82 C416.51 299.99 417.13 301.13 417.76 302.30 C418.38 303.47 419.01 304.64 419.64 305.84 C420.27 307.04 420.89 308.27 421.54 309.48 C422.19 310.70 422.84 311.94 423.52 313.14 C424.21 314.34 424.91 315.53 425.65 316.68 C426.40 317.83 427.18 318.94 428.00 320.01 C428.82 321.08 429.67 322.12 430.56 323.12 C431.44 324.11 432.36 325.07 433.31 326.00 C434.26 326.93 435.24 327.83 436.24 328.69 C437.25 329.55 438.28 330.39 439.34 331.19 C440.39 331.99 441.48 332.76 442.58 333.51 C443.68 334.26 444.81 334.97 445.95 335.67 C447.09 336.36 448.26 337.03 449.43 337.67 C450.61 338.32 451.80 338.94 453.01 339.54 C454.22 340.14 455.44 340.72 456.67 341.28 C457.90 341.84 459.14 342.38 460.39 342.91 C461.64 343.43 462.90 343.94 464.17 344.42 C465.44 344.91 466.72 345.38 468.00 345.83 C469.28 346.28 470.58 346.72 471.87 347.14 C473.17 347.56 474.47 347.97 475.78 348.36 C477.09 348.75 478.40 349.12 479.71 349.49 C481.02 349.85 482.34 350.20 483.66 350.53 C484.98 350.86 486.30 351.20 487.61 351.48 C488.93 351.76 490.25 352.03 491.56 352.22 C492.87 352.42 494.18 352.58 495.47 352.64 C496.77 352.70 498.06 352.71 499.34 352.60 C500.62 352.49 501.89 352.30 503.14 351.97 C504.39 351.65 505.63 351.22 506.85 350.64 C508.07 350.07 509.28 349.34 510.44 348.54 C511.61 347.74 512.75 346.80 513.82 345.86 C514.89 344.92 515.91 343.91 516.86 342.89 C517.82 341.87 518.70 340.82 519.55 339.75 C520.40 338.69 521.18 337.59 521.94 336.48 C522.69 335.37 523.40 334.24 524.08 333.09 C524.75 331.95 525.39 330.78 526.01 329.61 C526.63 328.44 527.22 327.25 527.80 326.05 C528.38 324.86 528.94 323.65 529.49 322.44 C530.05 321.23 530.59 320.01 531.14 318.80 C531.69 317.58 532.24 316.36 532.79 315.15 C533.35 313.93 533.90 312.71 534.47 311.49 C535.03 310.27 535.59 309.06 536.16 307.84 C536.74 306.62 537.31 305.40 537.89 304.19 C538.47 302.97 539.06 301.76 539.64 300.55 C540.23 299.33 540.83 298.12 541.43 296.91 C542.03 295.70 542.63 294.49 543.24 293.28 C543.85 292.08 544.47 290.87 545.09 289.67 C545.71 288.47 546.33 287.27 546.96 286.07 C547.60 284.88 548.23 283.68 548.88 282.49 C549.52 281.30 550.17 280.12 550.83 278.93 C551.48 277.75 552.14 276.57 552.81 275.39 C553.48 274.22 554.15 273.04 554.83 271.88 C555.52 270.71 556.20 269.55 556.90 268.39 C557.59 267.23 558.29 266.08 559.00 264.93 C559.71 263.78 560.42 262.64 561.15 261.50 C561.87 260.36 562.60 259.23 563.34 258.10 C564.07 256.98 564.82 255.85 565.57 254.74 C566.32 253.63 567.08 252.52 567.85 251.42 C568.62 250.32 569.39 249.22 570.18 248.13 C570.97 247.05 572.20 245.44 572.60 244.90" fill="none" stroke="#FF0000" stroke-width="2.2" stroke-linecap="butt" stroke-linejoin="round"/>
<path d="M185.50 620.75 C185.98 620.29 187.43 618.91 188.40 618.01 C189.37 617.11 190.35 616.22 191.33 615.33 C192.32 614.44 193.32 613.56 194.33 612.68 C195.33 611.80 196.35 610.93 197.37 610.06 C198.39 609.19 199.42 608.32 200.45 607.46 C201.49 606.60 202.53 605.73 203.57 604.87 C204.61 604.01 205.66 603.15 206.71 602.29 C207.76 601.44 208.82 600.58 209.87 599.72 C210.92 598.86 211.98 598.00 213.03 597.14 C214.08 596.28 215.14 595.42 216.19 594.55 C217.24 593.69 218.29 592.82 219.34 591.95 C220.38 591.07 221.42 590.20 222.46 589.32 C223.50 588.44 224.53 587.56 225.55 586.67 C226.58 585.78 227.60 584.88 228.61 583.98 C229.62 583.08 230.62 582.17 231.61 581.25 C232.60 580.34 233.59 579.41 234.56 578.48 C235.53 577.55 236.49 576.61 237.44 575.65 C238.39 574.70 239.32 573.74 240.24 572.77 C241.16 571.80 242.07 570.82 242.96 569.83 C243.85 568.83 244.73 567.83 245.58 566.81 C246.44 565.79 247.28 564.76 248.11 563.72 C248.93 562.68 249.73 561.62 250.52 560.55 C251.31 559.48 252.08 558.40 252.84 557.31 C253.60 556.22 254.34 555.12 255.08 554.01 C255.81 552.90 256.53 551.78 257.24 550.65 C257.95 549.53 258.65 548.39 259.34 547.25 C260.03 546.10 260.71 544.95 261.38 543.80 C262.06 542.64 262.72 541.48 263.39 540.32 C264.05 539.15 264.70 537.98 265.36 536.81 C266.01 535.63 266.66 534.46 267.31 533.28 C267.96 532.10 268.60 530.92 269.25 529.73 C269.90 528.55 270.54 527.37 271.19 526.19 C271.84 525.00 272.49 523.82 273.14 522.64 C273.80 521.46 274.46 520.28 275.12 519.10 C275.78 517.92 276.44 516.75 277.11 515.57 C277.78 514.40 278.45 513.22 279.12 512.05 C279.79 510.88 280.47 509.70 281.15 508.53 C281.83 507.36 282.51 506.19 283.20 505.03 C283.88 503.86 284.57 502.69 285.26 501.53 C285.95 500.36 286.64 499.20 287.33 498.03 C288.03 496.87 288.72 495.71 289.42 494.55 C290.12 493.39 290.82 492.23 291.52 491.07 C292.22 489.91 292.93 488.75 293.63 487.59 C294.33 486.44 295.04 485.28 295.75 484.13 C296.46 482.97 297.16 481.82 297.87 480.67 C298.58 479.51 299.29 478.36 300.01 477.21 C300.72 476.06 301.43 474.91 302.14 473.76 C302.86 472.61 303.57 471.46 304.28 470.32 C305.00 469.17 305.71 468.02 306.43 466.88 C307.14 465.73 307.86 464.58 308.57 463.44 C309.29 462.30 310.00 461.15 310.72 460.01 C311.43 458.87 312.15 457.72 312.86 456.58 C313.58 455.44 314.29 454.30 315.00 453.16 C315.72 452.02 316.43 450.88 317.14 449.74 C317.85 448.60 318.56 447.46 319.27 446.32 C319.98 445.19 320.69 444.05 321.40 442.91 C322.11 441.77 322.81 440.64 323.52 439.50 C324.22 438.37 324.92 437.23 325.63 436.09 C326.33 434.96 327.03 433.82 327.73 432.69 C328.42 431.56 329.12 430.42 329.81 429.29 C330.51 428.15 331.20 427.02 331.89 425.89 C332.58 424.75 333.27 423.62 333.95 422.49 C334.64 421.35 335.33 420.22 336.01 419.08 C336.69 417.95 337.38 416.82 338.06 415.68 C338.74 414.54 339.42 413.41 340.10 412.27 C340.78 411.13 341.45 410.00 342.13 408.86 C342.81 407.72 343.49 406.58 344.16 405.43 C344.84 404.29 345.52 403.15 346.19 402.00 C346.87 400.86 347.55 399.71 348.22 398.56 C348.90 397.41 349.58 396.26 350.25 395.11 C350.93 393.95 351.61 392.80 352.28 391.64 C352.96 390.48 353.64 389.32 354.32 388.16 C355.00 386.99 355.68 385.83 356.36 384.66 C357.04 383.49 357.72 382.32 358.41 381.14 C359.09 379.97 359.78 378.79 360.46 377.60 C361.15 376.42 361.84 375.24 362.53 374.04 C363.22 372.85 363.91 371.66 364.60 370.46 C365.30 369.26 365.99 368.06 366.69 366.86 C367.39 365.65 368.09 364.44 368.80 363.22 C369.50 362.01 370.21 360.79 370.91 359.56 C371.62 358.34 372.33 357.11 373.05 355.87 C373.76 354.64 374.48 353.38 375.21 352.16 C375.94 350.94 376.66 349.70 377.43 348.55 C378.19 347.40 378.97 346.27 379.79 345.26 C380.61 344.25 381.46 343.30 382.36 342.50 C383.27 341.71 384.21 341.01 385.22 340.50 C386.24 339.99 387.33 339.63 388.44 339.47 C389.56 339.30 390.77 339.31 391.91 339.50 C393.05 339.68 394.23 340.05 395.31 340.57 C396.38 341.09 397.41 341.80 398.37 342.61 C399.34 343.42 400.25 344.40 401.12 345.44 C402.00 346.47 402.82 347.64 403.64 348.83 C404.45 350.01 405.22 351.29 405.99 352.56 C406.77 353.82 407.52 355.14 408.28 356.41 C409.05 357.68 409.80 358.97 410.58 360.17 C411.37 361.37 412.16 362.52 412.97 363.61 C413.79 364.70 414.64 365.72 415.50 366.70 C416.37 367.69 417.26 368.61 418.17 369.53 C419.09 370.44 420.03 371.32 421.00 372.19 C421.97 373.06 422.97 373.93 423.99 374.77 C425.02 375.61 426.07 376.45 427.15 377.25 C428.22 378.06 429.33 378.84 430.45 379.58 C431.58 380.31 432.74 381.03 433.91 381.68 C435.09 382.33 436.28 382.94 437.50 383.48 C438.73 384.03 439.97 384.52 441.23 384.94 C442.49 385.36 443.78 385.70 445.08 386.00 C446.38 386.31 447.70 386.54 449.03 386.75 C450.35 386.95 451.70 387.10 453.05 387.24 C454.39 387.37 455.75 387.46 457.11 387.55 C458.48 387.64 459.84 387.70 461.21 387.76 C462.58 387.83 463.95 387.88 465.31 387.94 C466.67 388.01 468.03 388.07 469.38 388.17 C470.73 388.26 472.08 388.37 473.41 388.50 C474.75 388.63 476.07 388.79 477.40 388.95 C478.72 389.10 480.04 389.27 481.35 389.43 C482.67 389.59 483.98 389.75 485.29 389.88 C486.61 390.02 487.92 390.15 489.24 390.25 C490.56 390.34 491.88 390.42 493.21 390.45 C494.53 390.47 495.87 390.48 497.21 390.42 C498.55 390.36 499.90 390.26 501.27 390.09 C502.63 389.93 504.02 389.70 505.39 389.41 C506.76 389.12 508.15 388.76 509.49 388.35 C510.84 387.93 512.19 387.45 513.47 386.91 C514.75 386.36 516.00 385.76 517.17 385.09 C518.35 384.42 519.46 383.69 520.51 382.91 C521.56 382.12 522.54 381.28 523.47 380.38 C524.40 379.49 525.27 378.55 526.10 377.56 C526.92 376.58 527.70 375.54 528.43 374.48 C529.17 373.41 529.86 372.30 530.52 371.17 C531.18 370.04 531.81 368.87 532.41 367.68 C533.01 366.49 533.57 365.27 534.13 364.04 C534.68 362.80 535.21 361.55 535.73 360.29 C536.25 359.03 536.75 357.75 537.25 356.47 C537.75 355.19 538.24 353.90 538.74 352.62 C539.24 351.33 539.73 350.05 540.24 348.77 C540.74 347.49 541.25 346.22 541.77 344.96 C542.28 343.69 542.80 342.43 543.33 341.17 C543.86 339.91 544.39 338.66 544.93 337.41 C545.47 336.17 546.01 334.92 546.56 333.69 C547.11 332.45 547.66 331.21 548.22 329.98 C548.78 328.75 549.35 327.53 549.92 326.31 C550.49 325.08 551.06 323.87 551.64 322.65 C552.22 321.44 552.81 320.23 553.40 319.02 C553.99 317.82 554.58 316.61 555.18 315.41 C555.78 314.21 556.38 313.02 556.99 311.82 C557.59 310.63 558.21 309.44 558.82 308.25 C559.44 307.06 560.06 305.88 560.68 304.70 C561.31 303.51 561.93 302.33 562.57 301.16 C563.20 299.98 563.83 298.80 564.47 297.63 C565.11 296.46 565.75 295.29 566.40 294.12 C567.05 292.95 567.70 291.79 568.35 290.62 C569.01 289.46 569.66 288.30 570.32 287.13 C570.98 285.97 571.65 284.81 572.31 283.66 C572.98 282.50 573.65 281.34 574.32 280.18 C574.99 279.03 575.67 277.87 576.34 276.72 C577.02 275.57 577.70 274.41 578.38 273.26 C579.07 272.11 579.75 270.96 580.44 269.81 C581.13 268.66 581.82 267.51 582.51 266.36 C583.20 265.20 583.90 264.06 584.59 262.90 C585.29 261.75 585.99 260.61 586.69 259.45 C587.39 258.30 588.09 257.15 588.80 256.00 C589.50 254.85 590.21 253.70 590.92 252.55 C591.62 251.40 592.33 250.25 593.04 249.09 C593.75 247.94 594.46 246.79 595.18 245.63 C595.89 244.48 596.60 243.31 597.32 242.16 C598.04 241.02 599.14 239.32 599.50 238.75" fill="none" stroke="#FF0000" stroke-width="2.2" stroke-linecap="butt" stroke-linejoin="round"/>
<path d="M276.25 600.50 C276.63 599.95 277.77 598.30 278.51 597.19 C279.26 596.09 279.99 594.98 280.73 593.87 C281.47 592.76 282.21 591.64 282.95 590.53 C283.68 589.42 284.42 588.30 285.16 587.18 C285.90 586.06 286.64 584.95 287.38 583.82 C288.12 582.70 288.86 581.58 289.60 580.46 C290.34 579.33 291.08 578.21 291.82 577.08 C292.56 575.96 293.30 574.83 294.03 573.70 C294.77 572.57 295.51 571.44 296.25 570.31 C296.99 569.18 297.73 568.05 298.46 566.91 C299.20 565.78 299.94 564.65 300.68 563.51 C301.41 562.38 302.15 561.24 302.88 560.11 C303.62 558.97 304.36 557.83 305.09 556.69 C305.82 555.56 306.56 554.42 307.29 553.28 C308.02 552.14 308.76 551.00 309.49 549.86 C310.22 548.72 310.95 547.58 311.68 546.44 C312.41 545.29 313.14 544.15 313.86 543.01 C314.59 541.87 315.32 540.73 316.04 539.59 C316.77 538.44 317.49 537.30 318.21 536.16 C318.94 535.02 319.66 533.87 320.38 532.73 C321.10 531.59 321.82 530.45 322.54 529.31 C323.25 528.16 323.97 527.02 324.68 525.88 C325.40 524.74 326.11 523.60 326.82 522.46 C327.54 521.31 328.25 520.17 328.95 519.03 C329.66 517.89 330.37 516.75 331.07 515.62 C331.78 514.48 332.48 513.34 333.18 512.20 C333.88 511.06 334.58 509.93 335.28 508.79 C335.98 507.65 336.67 506.52 337.37 505.38 C338.06 504.25 338.75 503.11 339.44 501.98 C340.13 500.85 340.82 499.72 341.50 498.59 C342.19 497.45 342.87 496.32 343.55 495.19 C344.23 494.05 344.91 492.92 345.59 491.78 C346.26 490.64 346.94 489.50 347.61 488.35 C348.28 487.20 348.95 486.05 349.62 484.89 C350.29 483.73 350.95 482.57 351.62 481.40 C352.28 480.23 352.94 479.05 353.60 477.86 C354.26 476.67 354.92 475.47 355.57 474.26 C356.23 473.06 356.88 471.84 357.53 470.61 C358.18 469.38 358.83 468.13 359.48 466.88 C360.13 465.63 360.77 464.35 361.44 463.12 C362.11 461.88 362.79 460.64 363.51 459.46 C364.24 458.28 364.98 457.12 365.80 456.05 C366.61 454.98 367.46 453.95 368.39 453.04 C369.32 452.13 370.33 451.28 371.38 450.60 C372.44 449.93 373.57 449.35 374.74 448.99 C375.90 448.64 377.12 448.49 378.36 448.47 C379.60 448.46 380.89 448.66 382.18 448.89 C383.48 449.12 384.80 449.51 386.12 449.87 C387.43 450.22 388.77 450.66 390.09 451.04 C391.41 451.43 392.72 451.80 394.03 452.15 C395.35 452.50 396.66 452.84 397.97 453.14 C399.28 453.44 400.58 453.73 401.89 453.98 C403.20 454.23 404.51 454.45 405.83 454.63 C407.14 454.82 408.46 454.98 409.78 455.09 C411.10 455.20 412.42 455.27 413.75 455.31 C415.08 455.34 416.42 455.33 417.75 455.29 C419.09 455.25 420.43 455.17 421.78 455.07 C423.12 454.96 424.47 454.82 425.81 454.66 C427.16 454.51 428.51 454.32 429.85 454.11 C431.20 453.91 432.54 453.68 433.88 453.44 C435.23 453.20 436.57 452.95 437.90 452.68 C439.24 452.42 440.57 452.14 441.90 451.87 C443.23 451.59 444.55 451.30 445.86 451.01 C447.18 450.72 448.50 450.42 449.80 450.12 C451.11 449.82 452.42 449.51 453.72 449.20 C455.02 448.88 456.32 448.56 457.62 448.24 C458.92 447.91 460.21 447.58 461.50 447.24 C462.79 446.90 464.08 446.56 465.37 446.20 C466.66 445.85 467.94 445.50 469.23 445.13 C470.52 444.77 471.80 444.40 473.09 444.02 C474.37 443.65 475.65 443.26 476.94 442.87 C478.22 442.49 479.51 442.09 480.80 441.69 C482.08 441.29 483.37 440.89 484.66 440.50 C485.95 440.11 487.24 439.71 488.54 439.34 C489.84 438.96 491.15 438.59 492.45 438.24 C493.76 437.90 495.08 437.57 496.40 437.26 C497.72 436.95 499.06 436.68 500.38 436.39 C501.71 436.11 503.05 435.85 504.37 435.55 C505.69 435.24 507.01 434.95 508.30 434.59 C509.60 434.23 510.88 433.84 512.14 433.38 C513.40 432.93 514.63 432.42 515.85 431.86 C517.06 431.30 518.25 430.69 519.42 430.04 C520.59 429.38 521.73 428.67 522.84 427.93 C523.96 427.19 525.05 426.40 526.12 425.57 C527.18 424.75 528.22 423.88 529.23 422.98 C530.24 422.09 531.22 421.15 532.17 420.19 C533.13 419.23 534.05 418.23 534.94 417.21 C535.83 416.20 536.70 415.15 537.53 414.08 C538.36 413.02 539.16 411.93 539.92 410.82 C540.69 409.72 541.42 408.59 542.12 407.45 C542.83 406.31 543.50 405.16 544.15 403.99 C544.79 402.82 545.41 401.64 546.01 400.44 C546.61 399.24 547.18 398.03 547.73 396.82 C548.28 395.60 548.81 394.37 549.33 393.13 C549.85 391.89 550.35 390.64 550.83 389.39 C551.32 388.13 551.79 386.87 552.25 385.60 C552.71 384.34 553.16 383.06 553.61 381.79 C554.06 380.51 554.49 379.23 554.93 377.95 C555.36 376.67 555.79 375.38 556.22 374.10 C556.66 372.81 557.08 371.53 557.52 370.24 C557.95 368.96 558.39 367.68 558.83 366.40 C559.27 365.12 559.72 363.84 560.18 362.57 C560.64 361.30 561.11 360.04 561.59 358.78 C562.07 357.52 562.56 356.27 563.07 355.02 C563.57 353.77 564.09 352.53 564.62 351.30 C565.14 350.06 565.67 348.83 566.21 347.60 C566.74 346.37 567.29 345.14 567.83 343.91 C568.37 342.69 568.91 341.46 569.45 340.23 C569.99 339.00 570.53 337.78 571.06 336.54 C571.59 335.31 572.11 334.08 572.63 332.84 C573.14 331.60 573.65 330.35 574.14 329.10 C574.63 327.85 575.11 326.60 575.59 325.34 C576.06 324.08 576.53 322.81 576.99 321.55 C577.45 320.28 577.90 319.01 578.36 317.74 C578.82 316.48 579.27 315.20 579.72 313.94 C580.18 312.67 580.64 311.40 581.10 310.13 C581.56 308.86 582.03 307.60 582.50 306.34 C582.98 305.08 583.46 303.82 583.96 302.56 C584.46 301.31 584.96 300.06 585.49 298.82 C586.01 297.58 586.54 296.35 587.09 295.12 C587.64 293.89 588.20 292.67 588.78 291.45 C589.35 290.23 589.94 289.02 590.53 287.82 C591.13 286.61 591.74 285.41 592.36 284.21 C592.98 283.02 593.61 281.83 594.25 280.64 C594.90 279.46 595.55 278.28 596.21 277.10 C596.87 275.93 597.54 274.76 598.22 273.59 C598.90 272.43 599.58 271.27 600.28 270.11 C600.97 268.95 601.68 267.80 602.39 266.65 C603.10 265.51 603.82 264.36 604.54 263.22 C605.26 262.08 606.00 260.95 606.73 259.81 C607.47 258.68 608.21 257.55 608.96 256.43 C609.71 255.30 610.46 254.18 611.21 253.06 C611.97 251.95 612.73 250.83 613.50 249.72 C614.26 248.61 615.03 247.50 615.80 246.39 C616.57 245.29 617.35 244.19 618.12 243.09 C618.90 241.99 619.68 240.89 620.46 239.79 C621.24 238.70 622.02 237.61 622.80 236.52 C623.59 235.43 624.37 234.34 625.15 233.25 C625.93 232.17 627.11 230.54 627.50 230.00" fill="none" stroke="#FF0000" stroke-width="2.2" stroke-linecap="butt" stroke-linejoin="round"/>
<path d="M380.75 607.50 C381.19 606.99 382.48 605.46 383.36 604.46 C384.25 603.47 385.18 602.51 386.07 601.52 C386.97 600.53 387.86 599.53 388.75 598.52 C389.64 597.52 390.52 596.51 391.40 595.49 C392.28 594.48 393.16 593.46 394.03 592.43 C394.91 591.41 395.78 590.38 396.65 589.35 C397.51 588.32 398.38 587.28 399.25 586.25 C400.11 585.21 400.98 584.17 401.84 583.13 C402.71 582.09 403.57 581.05 404.43 580.01 C405.30 578.97 406.16 577.93 407.03 576.89 C407.90 575.86 408.76 574.82 409.63 573.78 C410.50 572.75 411.37 571.71 412.25 570.68 C413.12 569.65 414.00 568.63 414.88 567.60 C415.76 566.58 416.65 565.56 417.54 564.55 C418.43 563.54 419.32 562.53 420.22 561.53 C421.12 560.53 422.02 559.53 422.93 558.55 C423.84 557.56 424.76 556.58 425.68 555.61 C426.60 554.64 427.53 553.68 428.47 552.72 C429.41 551.77 430.35 550.83 431.31 549.90 C432.26 548.96 433.22 548.04 434.20 547.13 C435.17 546.22 436.15 545.33 437.14 544.44 C438.13 543.56 439.14 542.68 440.15 541.83 C441.16 540.97 442.19 540.12 443.23 539.29 C444.26 538.46 445.31 537.65 446.37 536.85 C447.44 536.05 448.51 535.27 449.60 534.51 C450.69 533.74 451.79 533.00 452.91 532.27 C454.02 531.54 455.16 530.83 456.30 530.14 C457.45 529.44 458.61 528.77 459.78 528.11 C460.95 527.45 462.14 526.80 463.32 526.16 C464.50 525.51 465.69 524.87 466.88 524.23 C468.06 523.59 469.25 522.94 470.43 522.29 C471.61 521.64 472.78 520.97 473.94 520.30 C475.11 519.63 476.27 518.96 477.42 518.27 C478.58 517.58 479.72 516.89 480.87 516.19 C482.01 515.49 483.14 514.77 484.27 514.06 C485.40 513.34 486.53 512.61 487.64 511.87 C488.76 511.14 489.88 510.39 490.98 509.64 C492.09 508.89 493.19 508.12 494.29 507.35 C495.38 506.58 496.47 505.80 497.56 505.02 C498.64 504.23 499.72 503.43 500.80 502.63 C501.88 501.83 502.95 501.02 504.02 500.20 C505.09 499.38 506.15 498.56 507.21 497.73 C508.28 496.90 509.33 496.07 510.39 495.23 C511.45 494.39 512.50 493.54 513.56 492.69 C514.61 491.84 515.66 490.98 516.71 490.13 C517.77 489.27 518.82 488.41 519.87 487.54 C520.92 486.68 521.97 485.81 523.02 484.94 C524.07 484.06 525.12 483.19 526.17 482.32 C527.22 481.44 528.27 480.56 529.31 479.67 C530.35 478.78 531.38 477.89 532.39 476.98 C533.40 476.07 534.41 475.16 535.38 474.23 C536.36 473.30 537.32 472.35 538.25 471.39 C539.18 470.43 540.09 469.45 540.97 468.46 C541.86 467.46 542.72 466.46 543.56 465.44 C544.40 464.41 545.22 463.38 546.02 462.33 C546.82 461.28 547.60 460.22 548.36 459.14 C549.12 458.07 549.86 456.98 550.58 455.88 C551.30 454.78 552.01 453.67 552.69 452.55 C553.38 451.43 554.05 450.29 554.70 449.15 C555.36 448.01 555.99 446.85 556.61 445.69 C557.24 444.52 557.84 443.35 558.43 442.17 C559.03 440.98 559.60 439.79 560.17 438.59 C560.74 437.39 561.29 436.18 561.83 434.96 C562.37 433.74 562.90 432.52 563.42 431.29 C563.93 430.06 564.44 428.82 564.94 427.57 C565.44 426.33 565.92 425.08 566.40 423.82 C566.88 422.56 567.35 421.30 567.81 420.03 C568.28 418.76 568.73 417.49 569.18 416.22 C569.63 414.94 570.07 413.66 570.50 412.37 C570.94 411.09 571.37 409.80 571.80 408.51 C572.22 407.22 572.64 405.93 573.06 404.63 C573.48 403.34 573.89 402.04 574.31 400.74 C574.72 399.45 575.13 398.15 575.54 396.84 C575.95 395.54 576.35 394.24 576.76 392.94 C577.17 391.64 577.57 390.34 577.98 389.04 C578.39 387.74 578.80 386.44 579.21 385.14 C579.62 383.84 580.03 382.55 580.45 381.25 C580.86 379.96 581.28 378.66 581.70 377.37 C582.11 376.08 582.53 374.79 582.96 373.50 C583.38 372.21 583.81 370.93 584.23 369.64 C584.66 368.36 585.09 367.07 585.52 365.79 C585.96 364.51 586.39 363.23 586.83 361.95 C587.27 360.67 587.70 359.39 588.15 358.11 C588.59 356.84 589.03 355.56 589.48 354.29 C589.93 353.02 590.38 351.75 590.83 350.48 C591.28 349.21 591.74 347.94 592.20 346.68 C592.66 345.41 593.12 344.15 593.58 342.88 C594.04 341.62 594.51 340.36 594.98 339.10 C595.45 337.84 595.92 336.58 596.40 335.33 C596.87 334.07 597.35 332.82 597.83 331.56 C598.31 330.31 598.80 329.06 599.29 327.81 C599.77 326.56 600.27 325.31 600.76 324.07 C601.25 322.82 601.75 321.58 602.25 320.33 C602.75 319.09 603.26 317.85 603.76 316.61 C604.27 315.37 604.78 314.13 605.30 312.90 C605.81 311.66 606.33 310.43 606.85 309.20 C607.37 307.96 607.90 306.73 608.42 305.51 C608.95 304.28 609.48 303.05 610.02 301.82 C610.56 300.60 611.09 299.38 611.64 298.15 C612.18 296.93 612.73 295.71 613.28 294.49 C613.83 293.28 614.38 292.06 614.94 290.85 C615.50 289.63 616.06 288.42 616.63 287.21 C617.20 286.00 617.77 284.79 618.34 283.58 C618.92 282.37 619.50 281.17 620.08 279.96 C620.66 278.76 621.25 277.56 621.84 276.36 C622.43 275.16 623.03 273.96 623.63 272.76 C624.23 271.57 624.83 270.37 625.44 269.18 C626.05 267.98 626.66 266.79 627.28 265.60 C627.90 264.42 628.52 263.23 629.14 262.04 C629.77 260.86 630.40 259.67 631.04 258.49 C631.67 257.31 632.31 256.13 632.96 254.95 C633.60 253.78 634.25 252.60 634.91 251.43 C635.56 250.25 636.22 249.08 636.88 247.91 C637.55 246.74 638.22 245.57 638.89 244.40 C639.56 243.24 640.24 242.07 640.93 240.91 C641.61 239.75 642.30 238.59 642.99 237.43 C643.69 236.27 644.39 235.11 645.09 233.96 C645.79 232.80 646.50 231.65 647.22 230.50 C647.93 229.35 648.65 228.20 649.38 227.05 C650.10 225.90 650.83 224.76 651.57 223.61 C652.30 222.47 653.01 221.29 653.79 220.19 C654.57 219.09 655.84 217.53 656.25 217.00" fill="none" stroke="#FF0000" stroke-width="2.2" stroke-linecap="butt" stroke-linejoin="round"/>
<path d="M533.75 567.00 C534.07 566.42 534.96 564.64 535.65 563.50 C536.34 562.35 537.14 561.25 537.88 560.13 C538.63 559.00 539.38 557.88 540.13 556.75 C540.89 555.63 541.64 554.50 542.39 553.38 C543.15 552.25 543.90 551.12 544.66 549.99 C545.41 548.86 546.17 547.73 546.92 546.60 C547.68 545.46 548.43 544.33 549.18 543.19 C549.93 542.06 550.69 540.92 551.43 539.78 C552.18 538.64 552.92 537.49 553.66 536.35 C554.40 535.20 555.14 534.06 555.87 532.91 C556.60 531.76 557.33 530.60 558.05 529.45 C558.77 528.29 559.49 527.14 560.20 525.97 C560.91 524.81 561.61 523.65 562.31 522.48 C563.01 521.31 563.69 520.14 564.37 518.97 C565.06 517.79 565.73 516.62 566.39 515.44 C567.05 514.25 567.71 513.07 568.35 511.88 C569.00 510.69 569.63 509.50 570.25 508.30 C570.88 507.10 571.49 505.90 572.09 504.69 C572.69 503.48 573.28 502.27 573.85 501.06 C574.43 499.84 574.99 498.62 575.54 497.40 C576.09 496.17 576.62 494.94 577.14 493.70 C577.67 492.47 578.17 491.23 578.67 489.98 C579.16 488.74 579.64 487.49 580.11 486.23 C580.58 484.98 581.04 483.72 581.48 482.46 C581.93 481.19 582.36 479.93 582.79 478.66 C583.21 477.39 583.62 476.11 584.03 474.83 C584.43 473.55 584.83 472.27 585.21 470.99 C585.60 469.70 585.98 468.42 586.35 467.12 C586.72 465.83 587.08 464.54 587.43 463.24 C587.79 461.95 588.14 460.65 588.48 459.35 C588.82 458.05 589.16 456.74 589.49 455.44 C589.83 454.13 590.15 452.82 590.48 451.51 C590.80 450.21 591.12 448.89 591.43 447.58 C591.75 446.27 592.06 444.96 592.37 443.64 C592.68 442.33 592.99 441.01 593.30 439.69 C593.61 438.38 593.91 437.06 594.22 435.74 C594.52 434.43 594.82 433.11 595.13 431.79 C595.44 430.47 595.74 429.15 596.05 427.83 C596.35 426.51 596.66 425.20 596.97 423.88 C597.28 422.56 597.59 421.24 597.91 419.93 C598.22 418.61 598.54 417.29 598.86 415.98 C599.18 414.66 599.50 413.35 599.83 412.03 C600.15 410.72 600.48 409.40 600.81 408.09 C601.14 406.78 601.47 405.46 601.81 404.15 C602.14 402.84 602.48 401.53 602.82 400.22 C603.16 398.91 603.51 397.60 603.85 396.29 C604.20 394.98 604.55 393.67 604.90 392.36 C605.25 391.05 605.60 389.75 605.96 388.44 C606.32 387.13 606.68 385.83 607.04 384.52 C607.40 383.22 607.77 381.92 608.14 380.61 C608.50 379.31 608.87 378.01 609.25 376.71 C609.62 375.41 610.00 374.11 610.38 372.81 C610.76 371.51 611.14 370.21 611.53 368.91 C611.91 367.61 612.30 366.32 612.69 365.02 C613.08 363.73 613.48 362.43 613.88 361.14 C614.27 359.84 614.67 358.55 615.08 357.26 C615.48 355.97 615.89 354.68 616.30 353.39 C616.71 352.10 617.12 350.81 617.54 349.53 C617.95 348.24 618.37 346.95 618.80 345.67 C619.22 344.38 619.64 343.10 620.07 341.82 C620.50 340.53 620.93 339.25 621.37 337.97 C621.81 336.69 622.24 335.41 622.69 334.14 C623.13 332.86 623.57 331.58 624.02 330.31 C624.47 329.03 624.92 327.76 625.38 326.49 C625.83 325.21 626.29 323.94 626.75 322.67 C627.22 321.40 627.68 320.13 628.15 318.87 C628.62 317.60 629.09 316.33 629.57 315.07 C630.05 313.81 630.52 312.54 631.01 311.28 C631.49 310.02 631.98 308.76 632.47 307.50 C632.96 306.24 633.45 304.99 633.95 303.73 C634.45 302.47 634.95 301.22 635.45 299.97 C635.96 298.72 636.46 297.46 636.98 296.21 C637.49 294.97 638.00 293.72 638.52 292.47 C639.04 291.22 639.57 289.98 640.09 288.74 C640.62 287.49 641.15 286.25 641.69 285.01 C642.22 283.77 642.76 282.54 643.30 281.30 C643.84 280.06 644.39 278.83 644.94 277.59 C645.49 276.36 646.04 275.13 646.60 273.90 C647.16 272.67 647.72 271.44 648.28 270.22 C648.85 268.99 649.42 267.77 649.99 266.55 C650.57 265.32 651.14 264.10 651.72 262.88 C652.31 261.67 652.89 260.45 653.48 259.23 C654.07 258.02 654.66 256.81 655.26 255.59 C655.86 254.38 656.46 253.17 657.07 251.97 C657.67 250.76 658.28 249.56 658.90 248.35 C659.51 247.15 660.13 245.95 660.75 244.75 C661.37 243.55 662.00 242.35 662.63 241.16 C663.26 239.96 663.90 238.77 664.54 237.58 C665.18 236.39 665.82 235.20 666.47 234.01 C667.12 232.82 667.77 231.64 668.43 230.46 C669.09 229.27 669.75 228.09 670.41 226.91 C671.08 225.74 671.75 224.56 672.42 223.39 C673.10 222.21 673.78 221.04 674.46 219.87 C675.14 218.70 675.83 217.53 676.53 216.37 C677.22 215.21 677.92 214.04 678.62 212.88 C679.32 211.72 680.02 210.56 680.74 209.41 C681.45 208.25 682.17 207.10 682.88 205.95 C683.59 204.80 684.65 203.07 685.00 202.50" fill="none" stroke="#FF0000" stroke-width="2.2" stroke-linecap="butt" stroke-linejoin="round"/>
<circle cx="259.50" cy="215.00" r="3.45" fill="#000"/>
<circle cx="254.75" cy="251.25" r="3.45" fill="#000"/>
<circle cx="255.25" cy="307.00" r="3.45" fill="#000"/>
<circle cx="312.00" cy="306.75" r="3.45" fill="#000"/>
<circle cx="251.25" cy="329.00" r="3.45" fill="#000"/>
<circle cx="281.25" cy="351.50" r="3.45" fill="#000"/>
<circle cx="333.00" cy="352.50" r="3.45" fill="#000"/>
<circle cx="337.00" cy="348.50" r="3.45" fill="#000"/>
<circle cx="362.50" cy="331.25" r="3.45" fill="#000"/>
<circle cx="398.75" cy="335.75" r="3.45" fill="#000"/>
<circle cx="296.25" cy="365.00" r="3.45" fill="#000"/>
<circle cx="238.25" cy="378.75" r="3.45" fill="#000"/>
<circle cx="287.00" cy="375.75" r="3.45" fill="#000"/>
<circle cx="307.00" cy="374.50" r="3.45" fill="#000"/>
<circle cx="309.50" cy="385.75" r="3.45" fill="#000"/>
<circle cx="237.00" cy="393.25" r="3.45" fill="#000"/>
<circle cx="282.00" cy="390.00" r="3.45" fill="#000"/>
<circle cx="285.50" cy="391.75" r="3.45" fill="#000"/>
<circle cx="309.50" cy="400.00" r="3.45" fill="#000"/>
<circle cx="312.50" cy="429.50" r="3.45" fill="#000"/>
<circle cx="246.25" cy="433.00" r="3.45" fill="#000"/>
<circle cx="308.75" cy="461.25" r="3.45" fill="#000"/>
<circle cx="331.00" cy="465.50" r="3.45" fill="#000"/>
<circle cx="344.50" cy="404.25" r="3.45" fill="#000"/>
<circle cx="408.25" cy="380.75" r="3.45" fill="#000"/>
<circle cx="402.50" cy="395.50" r="3.45" fill="#000"/>
<circle cx="452.75" cy="392.00" r="3.45" fill="#000"/>
<circle cx="412.00" cy="408.75" r="3.45" fill="#000"/>
<circle cx="389.00" cy="419.75" r="3.45" fill="#000"/>
<circle cx="413.75" cy="417.50" r="3.45" fill="#000"/>
<circle cx="412.00" cy="420.00" r="3.45" fill="#000"/>
<circle cx="479.50" cy="422.00" r="3.45" fill="#000"/>
<circle cx="401.00" cy="433.00" r="3.45" fill="#000"/>
<circle cx="443.00" cy="436.75" r="3.45" fill="#000"/>
<circle cx="360.00" cy="441.00" r="3.45" fill="#000"/>
<circle cx="378.00" cy="444.50" r="3.45" fill="#000"/>
<circle cx="389.00" cy="444.50" r="3.45" fill="#000"/>
<circle cx="532.50" cy="443.50" r="3.45" fill="#000"/>
<circle cx="383.00" cy="451.25" r="3.45" fill="#000"/>
<circle cx="435.75" cy="452.00" r="3.45" fill="#000"/>
<circle cx="385.00" cy="458.25" r="3.45" fill="#000"/>
<circle cx="492.00" cy="472.00" r="3.45" fill="#000"/>
<circle cx="394.50" cy="477.75" r="3.45" fill="#000"/>
<circle cx="412.00" cy="479.00" r="3.45" fill="#000"/>
<circle cx="418.25" cy="478.25" r="3.45" fill="#000"/>
<circle cx="415.00" cy="479.50" r="3.45" fill="#000"/>
<circle cx="408.25" cy="494.25" r="3.45" fill="#000"/>
<circle cx="376.75" cy="501.50" r="3.45" fill="#000"/>
<circle cx="425.00" cy="503.50" r="3.45" fill="#000"/>
<circle cx="454.25" cy="502.25" r="3.45" fill="#000"/>
<circle cx="465.00" cy="505.50" r="3.45" fill="#000"/>
<circle cx="379.25" cy="509.25" r="3.45" fill="#000"/>
<circle cx="477.00" cy="519.00" r="3.45" fill="#000"/>
<circle cx="343.75" cy="521.25" r="3.45" fill="#000"/>
<circle cx="385.00" cy="521.25" r="3.45" fill="#000"/>
<circle cx="374.50" cy="525.50" r="3.45" fill="#000"/>
<circle cx="381.50" cy="529.00" r="3.45" fill="#000"/>
<circle cx="405.00" cy="537.75" r="3.45" fill="#000"/>
<circle cx="408.50" cy="542.25" r="3.45" fill="#000"/>
<circle cx="423.00" cy="543.25" r="3.45" fill="#000"/>
<circle cx="453.50" cy="539.25" r="3.45" fill="#000"/>
<circle cx="407.50" cy="555.00" r="3.45" fill="#000"/>
<circle cx="346.25" cy="558.00" r="3.45" fill="#000"/>
<circle cx="411.50" cy="572.00" r="3.45" fill="#000"/>
<circle cx="401.25" cy="582.50" r="3.45" fill="#000"/>
<circle cx="409.50" cy="587.25" r="3.45" fill="#000"/>
<circle cx="237.50" cy="570.50" r="3.45" fill="#000"/>
<path d="M637.50 174.00 L648.00 184.50 L637.50 195.00 L627.00 184.50Z" fill="#fff" stroke="#000" stroke-width="1.8"/>
<circle cx="637.50" cy="184.50" r="3.50" fill="#000"/>
<path d="M596.00 249.50 L606.50 260.00 L596.00 270.50 L585.50 260.00Z" fill="#fff" stroke="#000" stroke-width="1.8"/>
<circle cx="596.00" cy="260.00" r="3.50" fill="#000"/>
<rect x="132" y="41" width="660" height="647" fill="none" stroke="#000" stroke-width="2"/>
<path d="M132.00 688 v-12.5 M165.00 688 v-6.5 M198.00 688 v-6.5 M231.00 688 v-6.5 M264.00 688 v-6.5 M297.00 688 v-12.5 M330.00 688 v-6.5 M363.00 688 v-6.5 M396.00 688 v-6.5 M429.00 688 v-6.5 M462.00 688 v-12.5 M495.00 688 v-6.5 M528.00 688 v-6.5 M561.00 688 v-6.5 M594.00 688 v-6.5 M627.00 688 v-12.5 M660.00 688 v-6.5 M693.00 688 v-6.5 M726.00 688 v-6.5 M759.00 688 v-6.5 M792.00 688 v-12.5 M132 688.00 h12.5 M792 688.00 h-12.5 M132 655.65 h6.5 M792 655.65 h-6.5 M132 623.30 h6.5 M792 623.30 h-6.5 M132 590.95 h6.5 M792 590.95 h-6.5 M132 558.60 h6.5 M792 558.60 h-6.5 M132 526.25 h12.5 M792 526.25 h-12.5 M132 493.90 h6.5 M792 493.90 h-6.5 M132 461.55 h6.5 M792 461.55 h-6.5 M132 429.20 h6.5 M792 429.20 h-6.5 M132 396.85 h6.5 M792 396.85 h-6.5 M132 364.50 h12.5 M792 364.50 h-12.5 M132 332.15 h6.5 M792 332.15 h-6.5 M132 299.80 h6.5 M792 299.80 h-6.5 M132 267.45 h6.5 M792 267.45 h-6.5 M132 235.10 h6.5 M792 235.10 h-6.5 M132 202.75 h12.5 M792 202.75 h-12.5 M132 170.40 h6.5 M792 170.40 h-6.5 M132 138.05 h6.5 M792 138.05 h-6.5 M132 105.70 h6.5 M792 105.70 h-6.5 M132 73.35 h6.5 M792 73.35 h-6.5 M132 41.00 h12.5 M792 41.00 h-12.5 M167.00 41 v12.5 M295.80 41 v12.5 M384.80 41 v6.5 M445.90 41 v12.5 M495.80 41 v6.5 M539.00 41 v12.5 M578.30 41 v6.5 M615.10 41 v12.5 M653.60 41 v6.5 M691.70 41 v12.5 M733.20 41 v6.5 M777.50 41 v12.5" stroke="#000" stroke-width="1.9" fill="none"/>
<g opacity="0.999">
<text x="167.00" y="30.80" font-size="22" text-anchor="middle" fill="#000" stroke="#000" stroke-width="0" textLength="32.5" lengthAdjust="spacing" >0.6</text>
<path d="M297.00 30.20 V15.60 l-3.40 2.30" fill="none" stroke="#000" stroke-width="1.95" stroke-linejoin="round"/>
<text x="445.90" y="30.80" font-size="22" text-anchor="middle" fill="#000" stroke="#000" stroke-width="0" >2</text>
<text x="539.00" y="30.80" font-size="22" text-anchor="middle" fill="#000" stroke="#000" stroke-width="0" >3</text>
<text x="615.10" y="30.80" font-size="22" text-anchor="middle" fill="#000" stroke="#000" stroke-width="0" >4</text>
<text x="691.70" y="30.80" font-size="22" text-anchor="middle" fill="#000" stroke="#000" stroke-width="0" >5</text>
<text x="764.00" y="30.80" font-size="22" text-anchor="middle" fill="#000" stroke="#000" stroke-width="0" >6</text>
<text x="782.60" y="30.80" font-size="22" text-anchor="start" fill="#000" stroke="#000" stroke-width="0" textLength="36.4" lengthAdjust="spacingAndGlyphs" >keV</text>
<text x="124.00" y="56.20" font-size="22" text-anchor="end" fill="#000" stroke="#000" stroke-width="0" textLength="31.5" lengthAdjust="spacing" >2.5</text>
<text x="124.00" y="211.20" font-size="22" text-anchor="end" fill="#000" stroke="#000" stroke-width="0" textLength="31.5" lengthAdjust="spacing" >2.0</text>
<text x="124.00" y="688.60" font-size="22" text-anchor="end" fill="#000" stroke="#000" stroke-width="0" textLength="31.5" lengthAdjust="spacing" >0.5</text>
<path d="M97.20 372.70 V358.10 l-3.40 2.30" fill="none" stroke="#000" stroke-width="1.95" stroke-linejoin="round"/>
<text x="104.05" y="373.20" font-size="22" text-anchor="start" fill="#000" stroke="#000" stroke-width="0" >.</text>
<text x="111.90" y="373.20" font-size="22" text-anchor="start" fill="#000" stroke="#000" stroke-width="0" >5</text>
<path d="M97.20 534.30 V519.70 l-3.40 2.30" fill="none" stroke="#000" stroke-width="1.95" stroke-linejoin="round"/>
<text x="104.05" y="534.80" font-size="22" text-anchor="start" fill="#000" stroke="#000" stroke-width="0" >.</text>
<text x="111.90" y="534.80" font-size="22" text-anchor="start" fill="#000" stroke="#000" stroke-width="0" >0</text>
<path d="M107.6 713.2 h13" stroke="#000" stroke-width="1.9"/>
<path d="M130.20 719.80 V705.20 l-3.40 2.30" fill="none" stroke="#000" stroke-width="1.95" stroke-linejoin="round"/>
<text x="137.05" y="720.30" font-size="22" text-anchor="start" fill="#000" stroke="#000" stroke-width="0" >.</text>
<text x="144.90" y="720.30" font-size="22" text-anchor="start" fill="#000" stroke="#000" stroke-width="0" >5</text>
<path d="M272.6 713.2 h13" stroke="#000" stroke-width="1.9"/>
<path d="M295.20 719.80 V705.20 l-3.40 2.30" fill="none" stroke="#000" stroke-width="1.95" stroke-linejoin="round"/>
<text x="302.05" y="720.30" font-size="22" text-anchor="start" fill="#000" stroke="#000" stroke-width="0" >.</text>
<text x="309.90" y="720.30" font-size="22" text-anchor="start" fill="#000" stroke="#000" stroke-width="0" >0</text>
<path d="M437.6 713.2 h13" stroke="#000" stroke-width="1.9"/>
<text x="486.50" y="720.30" font-size="22" text-anchor="end" fill="#000" stroke="#000" stroke-width="0" textLength="31.5" lengthAdjust="spacing" >0.5</text>
<text x="627.00" y="720.30" font-size="22" text-anchor="middle" fill="#000" stroke="#000" stroke-width="0" textLength="31.5" lengthAdjust="spacing" >0.0</text>
<text x="792.00" y="720.30" font-size="22" text-anchor="middle" fill="#000" stroke="#000" stroke-width="0" textLength="31.5" lengthAdjust="spacing" >0.5</text>
<text x="172.00" y="92.00" font-size="24" text-anchor="start" fill="#000" stroke="#000" stroke-width="0" textLength="30.5" lengthAdjust="spacing" >(c)</text>
<g transform="translate(71.8,416.6) rotate(-90)">
<text x="-0.80" y="0.00" font-size="23.5" text-anchor="start" fill="#000" stroke="#000" stroke-width="0" >3</text>
<text x="24.60" y="0.00" font-size="23.5" text-anchor="start" fill="#000" stroke="#000" stroke-width="0" textLength="13.8" lengthAdjust="spacingAndGlyphs" >Q</text>
<text x="40.20" y="6.20" font-size="16.5" text-anchor="start" fill="#000" stroke="#000" stroke-width="0" textLength="15.5" lengthAdjust="spacingAndGlyphs" >25</text>
<path d="M57.4 4.6 L68.8 -18.2" stroke="#000" stroke-width="2" fill="none"/>
<text x="72.60" y="0.00" font-size="23.5" text-anchor="start" fill="#000" stroke="#000" stroke-width="0" textLength="13.8" lengthAdjust="spacingAndGlyphs" >Q</text>
<text x="89.00" y="6.20" font-size="16.5" text-anchor="start" fill="#000" stroke="#000" stroke-width="0" textLength="15.5" lengthAdjust="spacingAndGlyphs" >75</text>
</g>
<text x="402.20" y="747.00" font-size="22" text-anchor="start" fill="#000" stroke="#000" stroke-width="0" textLength="33.8" lengthAdjust="spacingAndGlyphs" >log</text>
<text x="436.00" y="752.40" font-size="15.5" text-anchor="start" fill="#000" stroke="#000" stroke-width="0" textLength="15.0" lengthAdjust="spacingAndGlyphs" >10</text>
<text x="450.80" y="748.80" font-size="26" text-anchor="start" fill="#000" stroke="#000" stroke-width="0" >(</text>
<text x="512.00" y="748.80" font-size="26" text-anchor="start" fill="#000" stroke="#000" stroke-width="0" >)</text>
<path d="M460 740.3 H510" stroke="#000" stroke-width="1.8"/>
<text x="482.00" y="735.90" font-size="20" text-anchor="middle" fill="#000" stroke="#000" stroke-width="0" textLength="18.8" lengthAdjust="spacingAndGlyphs" >m</text>
<path d="M467.60 758.22 V744.62 l-3.17 2.14" fill="none" stroke="#000" stroke-width="1.82" stroke-linejoin="round"/>
<path d="M477.5 752 h11.5" stroke="#000" stroke-width="1.8"/>
<text x="493.00" y="758.60" font-size="20.5" text-anchor="start" fill="#000" stroke="#000" stroke-width="0" textLength="18.8" lengthAdjust="spacingAndGlyphs" >m</text>
<text x="583.60" y="588.40" font-size="22" text-anchor="start" fill="#000" stroke="#000" stroke-width="0" >Grid:</text>
<text x="644.30" y="588.40" font-size="22" text-anchor="start" fill="#000" stroke="#000" stroke-width="0" >Power</text>
<text x="759.30" y="588.40" font-size="22" text-anchor="end" fill="#000" stroke="#000" stroke-width="0" >Law</text>
<text x="704.50" y="613.60" font-size="22" text-anchor="start" fill="#000" stroke="#000" stroke-width="0" textLength="15.5" lengthAdjust="spacingAndGlyphs" >&gt;</text>
<text x="759.00" y="613.60" font-size="22" text-anchor="end" fill="#000" stroke="#000" stroke-width="0" textLength="26.0" lengthAdjust="spacing" >40</text>
<text x="658.00" y="613.60" font-size="22" text-anchor="start" fill="#000" stroke="#000" stroke-width="0" textLength="15.0" lengthAdjust="spacingAndGlyphs" >N</text>
<text x="674.50" y="619.50" font-size="13.5" text-anchor="start" fill="#000" stroke="#000" stroke-width="0" textLength="20.0" lengthAdjust="spacing" font-weight="bold">net</text>
<text x="580.00" y="638.20" font-size="22" text-anchor="start" fill="#000" stroke="#000" stroke-width="0" textLength="32.2" lengthAdjust="spacing" >Bx:</text>
<text x="625.00" y="638.20" font-size="22" text-anchor="start" fill="#000" stroke="#000" stroke-width="0" textLength="31.6" lengthAdjust="spacing" >0.3</text>
<path d="M661.3 631.0 H676.5" stroke="#000" stroke-width="1.9"/>
<text x="677.00" y="638.20" font-size="22" text-anchor="start" fill="#000" stroke="#000" stroke-width="0" textLength="31.6" lengthAdjust="spacing" >8.0</text>
<text x="723.60" y="638.20" font-size="22" text-anchor="start" fill="#000" stroke="#000" stroke-width="0" textLength="35.5" lengthAdjust="spacingAndGlyphs" >keV</text>
<text x="562.30" y="662.80" font-size="22" text-anchor="start" fill="#000" stroke="#000" stroke-width="0" textLength="47.8" lengthAdjust="spacingAndGlyphs" >ACIS</text>
<path d="M612.7 655.6 H627.2" stroke="#000" stroke-width="1.9"/>
<text x="627.40" y="662.80" font-size="22" text-anchor="start" fill="#000" stroke="#000" stroke-width="0" >S</text>
<text x="651.60" y="662.80" font-size="22" text-anchor="start" fill="#000" stroke="#000" stroke-width="0" textLength="69.5" lengthAdjust="spacing" >(lev3):</text>
<text x="759.30" y="662.80" font-size="22" text-anchor="end" fill="#000" stroke="#000" stroke-width="0" >69</text>
<text x="163.00" y="637.20" font-size="22" text-anchor="start" fill="#FF0000" stroke="#FF0000" stroke-width="0" textLength="43.0" lengthAdjust="spacingAndGlyphs" >Γ=3</text>
<text x="253.50" y="618.30" font-size="22" text-anchor="start" fill="#FF0000" stroke="#FF0000" stroke-width="0" textLength="42.0" lengthAdjust="spacingAndGlyphs" >Γ=2</text>
<text x="358.00" y="624.50" font-size="22" text-anchor="start" fill="#FF0000" stroke="#FF0000" stroke-width="0" textLength="29.5" lengthAdjust="spacingAndGlyphs" >Γ=</text>
<path d="M395.30 623.90 V609.30 l-3.40 2.30" fill="none" stroke="#FF0000" stroke-width="1.95" stroke-linejoin="round"/>
<text x="510.50" y="583.60" font-size="22" text-anchor="start" fill="#FF0000" stroke="#FF0000" stroke-width="0" textLength="42.3" lengthAdjust="spacingAndGlyphs" >Γ=0</text>
<g transform="translate(149.45,558.50) rotate(19.7)" fill="#0A80F8" stroke="#0A80F8" stroke-width="0.5">
<text x="0.0" y="0.0" font-size="22">0</text>
<text x="13.7" y="0.0" font-size="22">.</text>
<path d="M28.80 -0.30 V-14.90 l-3.40 2.30" fill="none" stroke="#0A80F8" stroke-width="2.00" stroke-linejoin="round"/>
</g>
<g transform="translate(263.50,418.00) rotate(19.7)" fill="#0A80F8" stroke="#0A80F8" stroke-width="0.5">
<text x="0.0" y="0.0" font-size="22">0</text>
<text x="12.9" y="0.0" font-size="22">.</text>
<text x="20.2" y="0.0" font-size="22">4</text>
</g>
<g transform="translate(357.40,304.40) rotate(19.7)" fill="#0A80F8" stroke="#0A80F8" stroke-width="0.5">
<path d="M6.00 -0.30 V-14.90 l-3.40 2.30" fill="none" stroke="#0A80F8" stroke-width="2.00" stroke-linejoin="round"/>
</g>
<g transform="translate(460.80,344.65) rotate(19.7)" fill="#0A80F8" stroke="#0A80F8" stroke-width="0.5">
<text x="0.0" y="0.0" font-size="22">4</text>
</g>
<g transform="translate(438.70,193.00) rotate(19.7)" fill="#0A80F8" stroke="#0A80F8" stroke-width="0.5">
<text x="-1.7" y="0.0" font-size="22">N</text>
<text x="14.8" y="5.5" font-size="13.5">H</text>
<text x="23.0" y="0.0" font-size="23">(</text>
<text x="33.8" y="0.0" font-size="22">x</text>
<path d="M53.60 -0.30 V-14.90 l-3.40 2.30" fill="none" stroke="#0A80F8" stroke-width="2.00" stroke-linejoin="round"/>
<text x="60.9" y="0.0" font-size="22">0</text>
<text x="74.5" y="-8.0" font-size="13.5">22</text>
<text x="89.0" y="0.0" font-size="23">)</text>
<text x="100.0" y="1.5" font-size="22">=</text>
<path d="M123.00 -0.30 V-14.90 l-3.40 2.30" fill="none" stroke="#0A80F8" stroke-width="2.00" stroke-linejoin="round"/>
<text x="130.6" y="0.0" font-size="22">0</text>
</g>
</g>
</svg>
</body></html>
